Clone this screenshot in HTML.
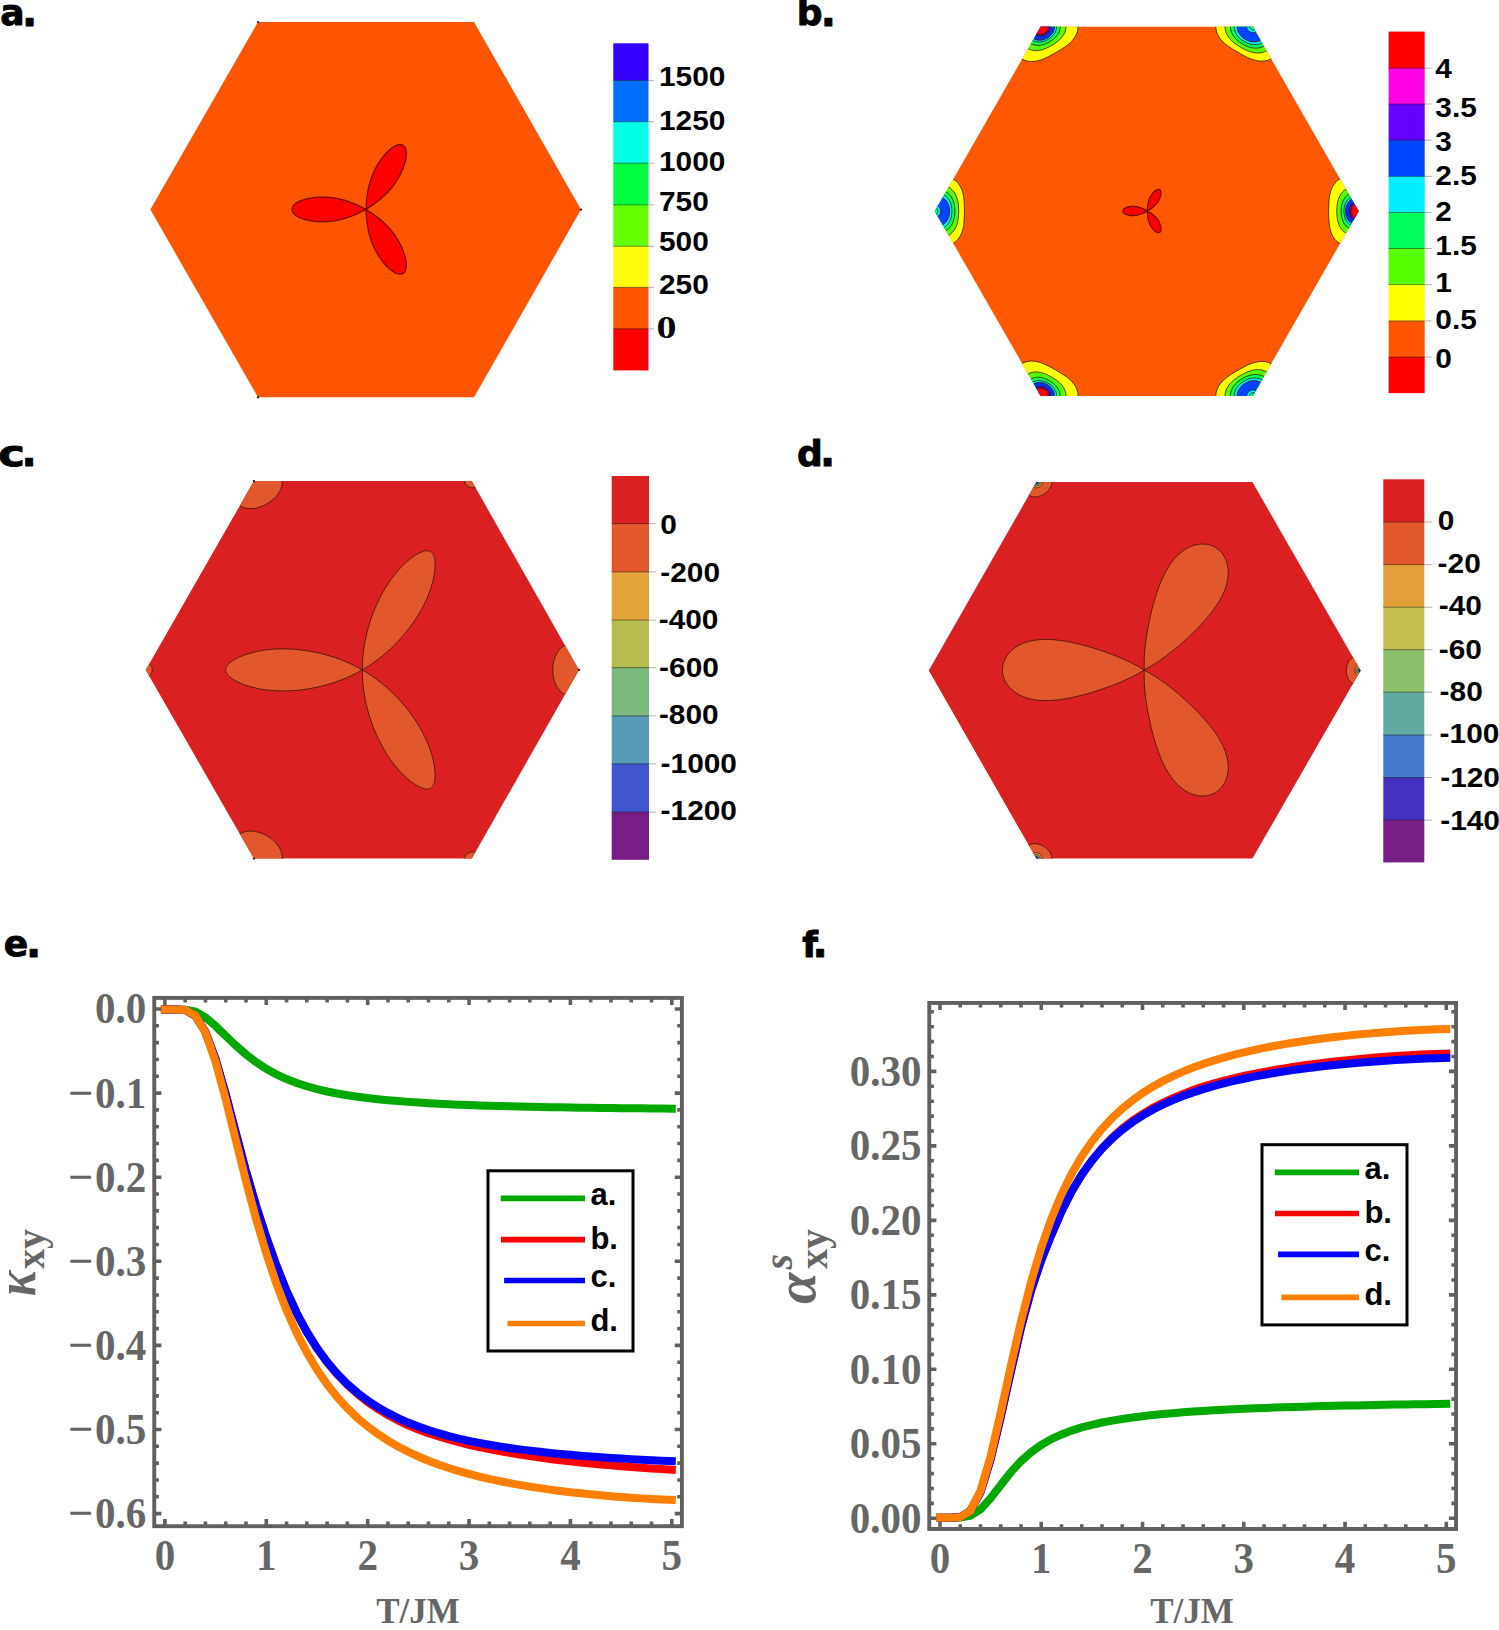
<!DOCTYPE html>
<html lang="en"><head><meta charset="utf-8"><title>Figure</title>
<style>html,body{margin:0;padding:0;background:#fff}svg{display:block}.pl{font-family:"DejaVu Sans","Liberation Sans",sans-serif;font-weight:bold;font-size:36px;fill:#000;stroke:#000;stroke-width:0.9px;stroke-linejoin:round}.cb{font-family:"Liberation Sans",sans-serif;font-weight:bold;font-size:27.5px;fill:#000}.tk{font-family:"Liberation Serif",serif;font-weight:bold;font-size:41px;fill:#666}.ax{font-family:"Liberation Serif",serif;font-weight:bold;font-size:35px;fill:#666}.lg{font-family:"Liberation Sans",sans-serif;font-weight:bold;font-size:31px;fill:#000}</style></head><body>
<svg width="1499" height="1630" viewBox="0 0 1499 1630">
<rect width="1499" height="1630" fill="#fff"/>
<defs>
<clipPath id="clipA"><polygon points="150.4,209.6 258,22 474,22 581,209.6 474,397.3 258,397.3"/></clipPath>
<clipPath id="clipB"><polygon points="934.8,211.2 1040.7,26.7 1252.8,26.7 1358.6,211.2 1252.8,395.9 1040.7,395.9"/></clipPath>
<clipPath id="clipC"><polygon points="145.7,669.9 253.9,481.1 471.8,481.1 579,669.9 471.8,858.6 253.9,858.6"/></clipPath>
<clipPath id="clipD"><polygon points="928.8,670.5 1036.4,482 1252.4,482 1360.6,670.5 1252.4,858.6 1036.4,858.6"/></clipPath>
</defs>
<polygon points="150.4,209.6 258,22 474,22 581,209.6 474,397.3 258,397.3" fill="#FF5500"/>
<path d="M366,209.4 L362.9,207.79 L359.89,206.3 L356.95,204.93 L354.09,203.69 L351.3,202.58 L348.6,201.59 L345.96,200.71 L343.41,199.95 L340.92,199.29 L338.51,198.74 L336.18,198.27 L333.91,197.9 L331.72,197.6 L329.6,197.37 L327.54,197.21 L325.56,197.1 L323.64,197.05 L321.79,197.05 L320.01,197.09 L318.29,197.18 L316.64,197.29 L315.05,197.44 L313.52,197.61 L312.06,197.82 L310.66,198.04 L309.31,198.28 L308.03,198.54 L306.81,198.82 L305.64,199.12 L304.53,199.42 L303.48,199.74 L302.48,200.07 L301.54,200.41 L300.65,200.76 L299.81,201.12 L299.02,201.48 L298.28,201.85 L297.59,202.22 L296.95,202.6 L296.35,202.98 L295.8,203.36 L295.3,203.75 L294.83,204.13 L294.41,204.52 L294.03,204.9 L293.69,205.29 L293.38,205.66 L293.11,206.04 L292.88,206.41 L292.67,206.77 L292.5,207.13 L292.36,207.47 L292.24,207.81 L292.15,208.13 L292.09,208.44 L292.04,208.73 L292.02,209 L292,209.23 L292,209.4 L292,209.57 L292.02,209.8 L292.04,210.07 L292.09,210.36 L292.15,210.67 L292.24,210.99 L292.36,211.33 L292.5,211.67 L292.67,212.03 L292.88,212.39 L293.11,212.76 L293.38,213.14 L293.69,213.51 L294.03,213.9 L294.41,214.28 L294.83,214.67 L295.3,215.05 L295.8,215.44 L296.35,215.82 L296.95,216.2 L297.59,216.58 L298.28,216.95 L299.02,217.32 L299.81,217.68 L300.65,218.04 L301.54,218.39 L302.48,218.73 L303.48,219.06 L304.53,219.38 L305.64,219.68 L306.81,219.98 L308.03,220.26 L309.31,220.52 L310.66,220.76 L312.06,220.98 L313.52,221.19 L315.05,221.36 L316.64,221.51 L318.29,221.62 L320.01,221.71 L321.79,221.75 L323.64,221.75 L325.56,221.7 L327.54,221.59 L329.6,221.43 L331.72,221.2 L333.91,220.9 L336.18,220.53 L338.51,220.06 L340.92,219.51 L343.41,218.85 L345.96,218.09 L348.6,217.21 L351.3,216.22 L354.09,215.11 L356.95,213.87 L359.89,212.5 L362.9,211.01 L366,209.4Z M366,209.4 L368.94,207.52 L371.74,205.66 L374.39,203.8 L376.9,201.94 L379.26,200.08 L381.47,198.24 L383.54,196.39 L385.48,194.56 L387.29,192.74 L388.98,190.93 L390.55,189.14 L392.01,187.36 L393.36,185.61 L394.62,183.89 L395.79,182.19 L396.87,180.52 L397.87,178.89 L398.8,177.29 L399.65,175.72 L400.44,174.19 L401.17,172.7 L401.84,171.25 L402.45,169.84 L403,168.48 L403.51,167.15 L403.97,165.87 L404.39,164.63 L404.76,163.43 L405.08,162.27 L405.37,161.16 L405.62,160.09 L405.84,159.06 L406.01,158.07 L406.16,157.12 L406.27,156.22 L406.35,155.36 L406.4,154.53 L406.42,153.75 L406.42,153 L406.38,152.3 L406.33,151.63 L406.25,151 L406.14,150.4 L406.02,149.84 L405.88,149.32 L405.72,148.83 L405.54,148.38 L405.35,147.96 L405.15,147.57 L404.94,147.21 L404.72,146.88 L404.49,146.59 L404.26,146.32 L404.02,146.08 L403.79,145.87 L403.56,145.69 L403.34,145.53 L403.15,145.4 L403,145.31 L402.85,145.23 L402.64,145.13 L402.4,145.02 L402.12,144.91 L401.82,144.81 L401.5,144.73 L401.15,144.66 L400.78,144.61 L400.39,144.58 L399.97,144.58 L399.53,144.6 L399.07,144.64 L398.59,144.72 L398.09,144.82 L397.57,144.96 L397.02,145.14 L396.46,145.34 L395.87,145.59 L395.26,145.88 L394.63,146.2 L393.99,146.57 L393.32,146.98 L392.63,147.43 L391.92,147.94 L391.19,148.48 L390.45,149.08 L389.68,149.73 L388.9,150.43 L388.09,151.18 L387.27,151.99 L386.44,152.85 L385.58,153.77 L384.72,154.75 L383.83,155.79 L382.94,156.89 L382.03,158.06 L381.12,159.29 L380.2,160.59 L379.27,161.97 L378.34,163.42 L377.41,164.94 L376.49,166.54 L375.57,168.23 L374.67,170 L373.78,171.86 L372.92,173.81 L372.08,175.86 L371.28,178.01 L370.51,180.27 L369.79,182.63 L369.11,185.11 L368.49,187.7 L367.93,190.42 L367.44,193.26 L367.01,196.23 L366.66,199.33 L366.37,202.56 L366.15,205.91 L366,209.4Z M366,209.4 L366.15,212.89 L366.37,216.24 L366.66,219.47 L367.01,222.57 L367.44,225.54 L367.93,228.38 L368.49,231.1 L369.11,233.69 L369.79,236.17 L370.51,238.53 L371.28,240.79 L372.08,242.94 L372.92,244.99 L373.78,246.94 L374.67,248.8 L375.57,250.57 L376.49,252.26 L377.41,253.86 L378.34,255.38 L379.27,256.83 L380.2,258.21 L381.12,259.51 L382.03,260.74 L382.94,261.91 L383.83,263.01 L384.72,264.05 L385.58,265.03 L386.44,265.95 L387.27,266.81 L388.09,267.62 L388.9,268.37 L389.68,269.07 L390.45,269.72 L391.19,270.32 L391.92,270.86 L392.63,271.37 L393.32,271.82 L393.99,272.23 L394.63,272.6 L395.26,272.92 L395.87,273.21 L396.46,273.46 L397.02,273.66 L397.57,273.84 L398.09,273.98 L398.59,274.08 L399.07,274.16 L399.53,274.2 L399.97,274.22 L400.39,274.22 L400.78,274.19 L401.15,274.14 L401.5,274.07 L401.82,273.99 L402.12,273.89 L402.4,273.78 L402.64,273.67 L402.85,273.57 L403,273.49 L403.15,273.4 L403.34,273.27 L403.56,273.11 L403.79,272.93 L404.02,272.72 L404.26,272.48 L404.49,272.21 L404.72,271.92 L404.94,271.59 L405.15,271.23 L405.35,270.84 L405.54,270.42 L405.72,269.97 L405.88,269.48 L406.02,268.96 L406.14,268.4 L406.25,267.8 L406.33,267.17 L406.38,266.5 L406.42,265.8 L406.42,265.05 L406.4,264.27 L406.35,263.44 L406.27,262.58 L406.16,261.68 L406.01,260.73 L405.84,259.74 L405.62,258.71 L405.37,257.64 L405.08,256.53 L404.76,255.37 L404.39,254.17 L403.97,252.93 L403.51,251.65 L403,250.32 L402.45,248.96 L401.84,247.55 L401.17,246.1 L400.44,244.61 L399.65,243.08 L398.8,241.51 L397.87,239.91 L396.87,238.28 L395.79,236.61 L394.62,234.91 L393.36,233.19 L392.01,231.44 L390.55,229.66 L388.98,227.87 L387.29,226.06 L385.48,224.24 L383.54,222.41 L381.47,220.56 L379.26,218.72 L376.9,216.86 L374.39,215 L371.74,213.14 L368.94,211.28 L366,209.4Z" fill="#FF0000" stroke="#5a0800" stroke-opacity="0.85" stroke-width="1.25"/>
<circle cx="258" cy="22" r="1.1" fill="#111"/>
<circle cx="258" cy="397.3" r="1.1" fill="#111"/>
<circle cx="581" cy="209.6" r="1.1" fill="#111"/>
<polygon points="934.8,211.2 1040.7,26.7 1252.8,26.7 1358.6,211.2 1252.8,395.9 1040.7,395.9" fill="#FF5800"/>
<path d="M1147.4,211 L1146.37,210.4 L1145.37,209.85 L1144.39,209.34 L1143.44,208.88 L1142.51,208.46 L1141.61,208.09 L1140.74,207.77 L1139.89,207.48 L1139.06,207.24 L1138.26,207.03 L1137.49,206.86 L1136.73,206.72 L1136,206.61 L1135.3,206.52 L1134.62,206.46 L1133.96,206.42 L1133.32,206.4 L1132.7,206.4 L1132.11,206.42 L1131.54,206.45 L1130.99,206.49 L1130.46,206.55 L1129.95,206.61 L1129.47,206.69 L1129,206.77 L1128.56,206.86 L1128.13,206.96 L1127.72,207.06 L1127.34,207.17 L1126.97,207.29 L1126.62,207.4 L1126.29,207.53 L1125.97,207.65 L1125.68,207.78 L1125.4,207.92 L1125.13,208.05 L1124.89,208.19 L1124.66,208.33 L1124.45,208.47 L1124.25,208.61 L1124.06,208.75 L1123.9,208.9 L1123.74,209.04 L1123.6,209.18 L1123.47,209.33 L1123.36,209.47 L1123.26,209.61 L1123.17,209.75 L1123.09,209.89 L1123.02,210.02 L1122.97,210.15 L1122.92,210.28 L1122.88,210.41 L1122.85,210.53 L1122.83,210.64 L1122.81,210.75 L1122.81,210.85 L1122.8,210.94 L1122.8,211 L1122.8,211.06 L1122.81,211.15 L1122.81,211.25 L1122.83,211.36 L1122.85,211.47 L1122.88,211.59 L1122.92,211.72 L1122.97,211.85 L1123.02,211.98 L1123.09,212.11 L1123.17,212.25 L1123.26,212.39 L1123.36,212.53 L1123.47,212.67 L1123.6,212.82 L1123.74,212.96 L1123.9,213.1 L1124.06,213.25 L1124.25,213.39 L1124.45,213.53 L1124.66,213.67 L1124.89,213.81 L1125.13,213.95 L1125.4,214.08 L1125.68,214.22 L1125.97,214.35 L1126.29,214.47 L1126.62,214.6 L1126.97,214.71 L1127.34,214.83 L1127.72,214.94 L1128.13,215.04 L1128.56,215.14 L1129,215.23 L1129.47,215.31 L1129.95,215.39 L1130.46,215.45 L1130.99,215.51 L1131.54,215.55 L1132.11,215.58 L1132.7,215.6 L1133.32,215.6 L1133.96,215.58 L1134.62,215.54 L1135.3,215.48 L1136,215.39 L1136.73,215.28 L1137.49,215.14 L1138.26,214.97 L1139.06,214.76 L1139.89,214.52 L1140.74,214.23 L1141.61,213.91 L1142.51,213.54 L1143.44,213.12 L1144.39,212.66 L1145.37,212.15 L1146.37,211.6 L1147.4,211Z M1147.4,211 L1148.43,210.41 L1149.42,209.82 L1150.34,209.23 L1151.22,208.63 L1152.04,208.04 L1152.81,207.44 L1153.53,206.85 L1154.2,206.26 L1154.83,205.66 L1155.41,205.07 L1155.94,204.49 L1156.44,203.9 L1156.9,203.33 L1157.33,202.76 L1157.72,202.2 L1158.09,201.65 L1158.42,201.1 L1158.73,200.57 L1159.01,200.05 L1159.27,199.54 L1159.51,199.04 L1159.73,198.56 L1159.92,198.09 L1160.1,197.63 L1160.26,197.18 L1160.41,196.75 L1160.54,196.33 L1160.65,195.93 L1160.75,195.54 L1160.83,195.16 L1160.91,194.8 L1160.97,194.45 L1161.01,194.12 L1161.05,193.79 L1161.07,193.49 L1161.09,193.19 L1161.09,192.91 L1161.09,192.64 L1161.07,192.39 L1161.05,192.14 L1161.01,191.91 L1160.97,191.7 L1160.93,191.49 L1160.87,191.3 L1160.81,191.12 L1160.75,190.95 L1160.67,190.79 L1160.6,190.64 L1160.52,190.5 L1160.44,190.38 L1160.35,190.26 L1160.26,190.16 L1160.17,190.06 L1160.08,189.98 L1159.99,189.9 L1159.91,189.83 L1159.83,189.78 L1159.75,189.73 L1159.7,189.7 L1159.64,189.66 L1159.57,189.63 L1159.48,189.58 L1159.38,189.54 L1159.27,189.5 L1159.15,189.47 L1159.02,189.44 L1158.88,189.42 L1158.74,189.4 L1158.59,189.39 L1158.43,189.39 L1158.27,189.4 L1158.09,189.42 L1157.91,189.44 L1157.73,189.48 L1157.53,189.53 L1157.33,189.59 L1157.12,189.67 L1156.91,189.75 L1156.68,189.85 L1156.46,189.97 L1156.22,190.1 L1155.98,190.24 L1155.73,190.4 L1155.48,190.58 L1155.22,190.77 L1154.95,190.98 L1154.68,191.2 L1154.4,191.45 L1154.12,191.71 L1153.83,191.99 L1153.53,192.29 L1153.24,192.61 L1152.94,192.95 L1152.63,193.31 L1152.32,193.7 L1152.01,194.1 L1151.7,194.53 L1151.39,194.99 L1151.08,195.47 L1150.77,195.97 L1150.46,196.51 L1150.16,197.07 L1149.86,197.66 L1149.57,198.28 L1149.29,198.93 L1149.02,199.62 L1148.77,200.34 L1148.53,201.1 L1148.31,201.9 L1148.11,202.74 L1147.93,203.61 L1147.77,204.53 L1147.64,205.5 L1147.54,206.51 L1147.46,207.56 L1147.42,208.66 L1147.4,209.81 L1147.4,211Z M1147.4,211 L1147.4,212.19 L1147.42,213.34 L1147.46,214.44 L1147.54,215.49 L1147.64,216.5 L1147.77,217.47 L1147.93,218.39 L1148.11,219.26 L1148.31,220.1 L1148.53,220.9 L1148.77,221.66 L1149.02,222.38 L1149.29,223.07 L1149.57,223.72 L1149.86,224.34 L1150.16,224.93 L1150.46,225.49 L1150.77,226.03 L1151.08,226.53 L1151.39,227.01 L1151.7,227.47 L1152.01,227.9 L1152.32,228.3 L1152.63,228.69 L1152.94,229.05 L1153.24,229.39 L1153.53,229.71 L1153.83,230.01 L1154.12,230.29 L1154.4,230.55 L1154.68,230.8 L1154.95,231.02 L1155.22,231.23 L1155.48,231.42 L1155.73,231.6 L1155.98,231.76 L1156.22,231.9 L1156.46,232.03 L1156.68,232.15 L1156.91,232.25 L1157.12,232.33 L1157.33,232.41 L1157.53,232.47 L1157.73,232.52 L1157.91,232.56 L1158.09,232.58 L1158.27,232.6 L1158.43,232.61 L1158.59,232.61 L1158.74,232.6 L1158.88,232.58 L1159.02,232.56 L1159.15,232.53 L1159.27,232.5 L1159.38,232.46 L1159.48,232.42 L1159.57,232.37 L1159.64,232.34 L1159.7,232.3 L1159.75,232.27 L1159.83,232.22 L1159.91,232.17 L1159.99,232.1 L1160.08,232.02 L1160.17,231.94 L1160.26,231.84 L1160.35,231.74 L1160.44,231.62 L1160.52,231.5 L1160.6,231.36 L1160.67,231.21 L1160.75,231.05 L1160.81,230.88 L1160.87,230.7 L1160.93,230.51 L1160.97,230.3 L1161.01,230.09 L1161.05,229.86 L1161.07,229.61 L1161.09,229.36 L1161.09,229.09 L1161.09,228.81 L1161.07,228.51 L1161.05,228.21 L1161.01,227.88 L1160.97,227.55 L1160.91,227.2 L1160.83,226.84 L1160.75,226.46 L1160.65,226.07 L1160.54,225.67 L1160.41,225.25 L1160.26,224.82 L1160.1,224.37 L1159.92,223.91 L1159.73,223.44 L1159.51,222.96 L1159.27,222.46 L1159.01,221.95 L1158.73,221.43 L1158.42,220.9 L1158.09,220.35 L1157.72,219.8 L1157.33,219.24 L1156.9,218.67 L1156.44,218.1 L1155.94,217.51 L1155.41,216.93 L1154.83,216.34 L1154.2,215.74 L1153.53,215.15 L1152.81,214.56 L1152.04,213.96 L1151.22,213.37 L1150.34,212.77 L1149.42,212.18 L1148.43,211.59 L1147.4,211Z" fill="#FF0000" stroke="#5a0800" stroke-opacity="0.85" stroke-width="1.25"/>
<g clip-path="url(#clipB)">
<path d="M897.8,211.2 L898.1,214.41 L898.96,217.52 L900.32,220.44 L902.08,223.11 L904.11,225.51 L906.32,227.64 L908.61,229.54 L910.93,231.23 L913.24,232.76 L915.52,234.18 L917.76,235.53 L920,236.83 L922.25,238.12 L924.54,239.39 L926.91,240.65 L929.39,241.88 L932.01,243.05 L934.8,244.09 L937.75,244.93 L940.85,245.49 L944.04,245.68 L947.25,245.4 L950.37,244.59 L953.3,243.24 L955.93,241.38 L958.19,239.08 L960.04,236.44 L961.48,233.58 L962.54,230.62 L963.28,227.64 L963.77,224.71 L964.08,221.86 L964.25,219.09 L964.35,216.41 L964.39,213.79 L964.4,211.2 L964.39,208.61 L964.35,205.99 L964.25,203.31 L964.08,200.54 L963.77,197.69 L963.28,194.76 L962.54,191.78 L961.48,188.82 L960.04,185.96 L958.19,183.32 L955.93,181.02 L953.3,179.16 L950.37,177.81 L947.25,177 L944.04,176.72 L940.85,176.91 L937.75,177.47 L934.8,178.31 L932.01,179.35 L929.39,180.52 L926.91,181.75 L924.54,183.01 L922.25,184.28 L920,185.57 L917.76,186.87 L915.52,188.22 L913.24,189.64 L910.93,191.17 L908.61,192.86 L906.32,194.76 L904.11,196.89 L902.08,199.29 L900.32,201.96 L898.96,204.88 L898.1,207.99Z" fill="#FFFF00" stroke="#3a1500" stroke-opacity="0.8" stroke-width="1"/>
<path d="M907,211.2 L907.18,213.62 L907.72,215.98 L908.57,218.23 L909.7,220.34 L911.04,222.28 L912.54,224.05 L914.14,225.66 L915.82,227.13 L917.54,228.46 L919.29,229.69 L921.05,230.83 L922.85,231.9 L924.67,232.92 L926.55,233.88 L928.48,234.78 L930.5,235.6 L932.6,236.32 L934.8,236.91 L937.09,237.32 L939.44,237.51 L941.83,237.43 L944.21,237.04 L946.52,236.33 L948.7,235.28 L950.7,233.91 L952.48,232.27 L954,230.4 L955.26,228.37 L956.28,226.24 L957.06,224.05 L957.65,221.86 L958.08,219.67 L958.38,217.52 L958.57,215.39 L958.67,213.29 L958.71,211.2 L958.67,209.11 L958.57,207.01 L958.38,204.88 L958.08,202.73 L957.65,200.54 L957.06,198.35 L956.28,196.16 L955.26,194.03 L954,192 L952.48,190.13 L950.7,188.49 L948.7,187.12 L946.52,186.07 L944.21,185.36 L941.83,184.97 L939.44,184.89 L937.09,185.08 L934.8,185.49 L932.6,186.08 L930.5,186.8 L928.48,187.62 L926.55,188.52 L924.67,189.48 L922.85,190.5 L921.05,191.57 L919.29,192.71 L917.54,193.94 L915.82,195.27 L914.14,196.74 L912.54,198.35 L911.04,200.12 L909.7,202.06 L908.57,204.17 L907.72,206.42 L907.18,208.78Z" fill="#55FF00" stroke="#3a1500" stroke-opacity="0.8" stroke-width="1"/>
<path d="M912.4,211.2 L912.53,213.15 L912.9,215.06 L913.51,216.9 L914.32,218.65 L915.3,220.29 L916.42,221.81 L917.65,223.21 L918.96,224.49 L920.33,225.67 L921.75,226.75 L923.22,227.74 L924.72,228.66 L926.27,229.5 L927.86,230.27 L929.5,230.96 L931.21,231.56 L932.98,232.06 L934.8,232.42 L936.68,232.63 L938.58,232.66 L940.5,232.49 L942.4,232.09 L944.25,231.46 L946,230.6 L947.62,229.51 L949.09,228.23 L950.39,226.79 L951.5,225.21 L952.42,223.54 L953.18,221.81 L953.77,220.05 L954.23,218.27 L954.56,216.5 L954.79,214.72 L954.92,212.96 L954.96,211.2 L954.92,209.44 L954.79,207.68 L954.56,205.9 L954.23,204.13 L953.77,202.35 L953.18,200.59 L952.42,198.86 L951.5,197.19 L950.39,195.61 L949.09,194.17 L947.62,192.89 L946,191.8 L944.25,190.94 L942.4,190.31 L940.5,189.91 L938.58,189.74 L936.68,189.77 L934.8,189.98 L932.98,190.34 L931.21,190.84 L929.5,191.44 L927.86,192.13 L926.27,192.9 L924.72,193.74 L923.22,194.66 L921.75,195.65 L920.33,196.73 L918.96,197.91 L917.65,199.19 L916.42,200.59 L915.3,202.11 L914.32,203.75 L913.51,205.5 L912.9,207.34 L912.53,209.25Z" fill="#00FF5A" stroke="#3a1500" stroke-opacity="0.8" stroke-width="1"/>
<path d="M916.2,211.2 L916.3,212.82 L916.59,214.41 L917.06,215.95 L917.69,217.43 L918.47,218.82 L919.36,220.11 L920.35,221.31 L921.42,222.42 L922.56,223.44 L923.74,224.38 L924.97,225.24 L926.24,226.02 L927.56,226.73 L928.92,227.37 L930.32,227.92 L931.77,228.4 L933.26,228.77 L934.8,229.02 L936.37,229.15 L937.96,229.13 L939.55,228.94 L941.12,228.58 L942.65,228.03 L944.1,227.31 L945.45,226.41 L946.69,225.37 L947.79,224.19 L948.75,222.9 L949.56,221.54 L950.24,220.11 L950.78,218.65 L951.21,217.17 L951.52,215.68 L951.74,214.19 L951.87,212.69 L951.91,211.2 L951.87,209.71 L951.74,208.21 L951.52,206.72 L951.21,205.23 L950.78,203.75 L950.24,202.29 L949.56,200.86 L948.75,199.5 L947.79,198.21 L946.69,197.03 L945.45,195.99 L944.1,195.09 L942.65,194.37 L941.12,193.82 L939.55,193.46 L937.96,193.27 L936.37,193.25 L934.8,193.38 L933.26,193.63 L931.77,194 L930.32,194.48 L928.92,195.03 L927.56,195.67 L926.24,196.38 L924.97,197.16 L923.74,198.02 L922.56,198.96 L921.42,199.98 L920.35,201.09 L919.36,202.29 L918.47,203.58 L917.69,204.97 L917.06,206.45 L916.59,207.99 L916.3,209.58Z" fill="#00EEFF" stroke="#3a1500" stroke-opacity="0.8" stroke-width="1"/>
<path d="M919.1,211.2 L919.18,212.57 L919.4,213.91 L919.78,215.23 L920.28,216.49 L920.9,217.68 L921.62,218.81 L922.44,219.86 L923.32,220.83 L924.27,221.73 L925.28,222.55 L926.33,223.3 L927.42,223.98 L928.56,224.59 L929.73,225.12 L930.95,225.58 L932.2,225.96 L933.48,226.24 L934.8,226.41 L936.14,226.48 L937.48,226.42 L938.83,226.22 L940.15,225.89 L941.43,225.41 L942.65,224.8 L943.8,224.05 L944.85,223.18 L945.8,222.2 L946.64,221.13 L947.36,220 L947.98,218.81 L948.48,217.58 L948.88,216.32 L949.18,215.05 L949.39,213.77 L949.52,212.49 L949.56,211.2 L949.52,209.91 L949.39,208.63 L949.18,207.35 L948.88,206.08 L948.48,204.82 L947.98,203.59 L947.36,202.4 L946.64,201.27 L945.8,200.2 L944.85,199.22 L943.8,198.35 L942.65,197.6 L941.43,196.99 L940.15,196.51 L938.83,196.18 L937.48,195.98 L936.14,195.92 L934.8,195.99 L933.48,196.16 L932.2,196.44 L930.95,196.82 L929.73,197.28 L928.56,197.81 L927.42,198.42 L926.33,199.1 L925.28,199.85 L924.27,200.67 L923.32,201.57 L922.44,202.54 L921.62,203.59 L920.9,204.72 L920.28,205.91 L919.78,207.17 L919.4,208.49 L919.18,209.83Z" fill="#0044FF" stroke="#3a1500" stroke-opacity="0.8" stroke-width="1"/>
<path d="M928.8,211.2 L928.83,211.72 L928.9,212.24 L929.03,212.75 L929.21,213.24 L929.42,213.71 L929.68,214.15 L929.98,214.58 L930.31,214.97 L930.67,215.33 L931.05,215.67 L931.46,215.97 L931.89,216.24 L932.34,216.48 L932.81,216.68 L933.29,216.85 L933.78,216.97 L934.29,217.06 L934.8,217.11 L935.32,217.11 L935.83,217.06 L936.35,216.97 L936.85,216.83 L937.33,216.63 L937.8,216.4 L938.24,216.11 L938.65,215.79 L939.02,215.42 L939.36,215.03 L939.66,214.6 L939.92,214.15 L940.13,213.69 L940.31,213.21 L940.45,212.71 L940.54,212.21 L940.6,211.71 L940.62,211.2 L940.6,210.69 L940.54,210.19 L940.45,209.69 L940.31,209.19 L940.13,208.71 L939.92,208.25 L939.66,207.8 L939.36,207.37 L939.02,206.98 L938.65,206.61 L938.24,206.29 L937.8,206 L937.33,205.77 L936.85,205.57 L936.35,205.43 L935.83,205.34 L935.32,205.29 L934.8,205.29 L934.29,205.34 L933.78,205.43 L933.29,205.55 L932.81,205.72 L932.34,205.92 L931.89,206.16 L931.46,206.43 L931.05,206.73 L930.67,207.07 L930.31,207.43 L929.98,207.82 L929.68,208.25 L929.42,208.69 L929.21,209.16 L929.03,209.65 L928.9,210.16 L928.83,210.68Z" fill="#00EEFF" stroke="#3a1500" stroke-opacity="0.8" stroke-width="1"/>
<path d="M931.5,211.2 L931.51,211.49 L931.55,211.77 L931.62,212.05 L931.71,212.32 L931.83,212.58 L931.97,212.83 L932.13,213.07 L932.31,213.29 L932.51,213.49 L932.72,213.68 L932.94,213.85 L933.18,214 L933.43,214.13 L933.69,214.24 L933.96,214.33 L934.24,214.4 L934.52,214.45 L934.8,214.47 L935.09,214.46 L935.37,214.43 L935.65,214.38 L935.93,214.3 L936.19,214.19 L936.45,214.06 L936.69,213.9 L936.92,213.72 L937.13,213.53 L937.32,213.31 L937.48,213.08 L937.63,212.83 L937.75,212.58 L937.85,212.31 L937.93,212.04 L937.99,211.76 L938.02,211.48 L938.03,211.2 L938.02,210.92 L937.99,210.64 L937.93,210.36 L937.85,210.09 L937.75,209.82 L937.63,209.57 L937.48,209.32 L937.32,209.09 L937.13,208.87 L936.92,208.68 L936.69,208.5 L936.45,208.34 L936.19,208.21 L935.93,208.1 L935.65,208.02 L935.37,207.97 L935.09,207.94 L934.8,207.93 L934.52,207.95 L934.24,208 L933.96,208.07 L933.69,208.16 L933.43,208.27 L933.18,208.4 L932.94,208.55 L932.72,208.72 L932.51,208.91 L932.31,209.11 L932.13,209.33 L931.97,209.57 L931.83,209.82 L931.71,210.08 L931.62,210.35 L931.55,210.63 L931.51,210.91Z" fill="#00FF5A" stroke="#3a1500" stroke-opacity="0.8" stroke-width="1"/>
<path d="M1022,-5.69 L1019.34,-3.81 L1017.06,-1.48 L1015.19,1.19 L1013.74,4.07 L1012.66,7.07 L1011.91,10.08 L1011.41,13.04 L1011.1,15.93 L1010.93,18.72 L1010.83,21.43 L1010.79,24.08 L1010.78,26.7 L1010.79,29.32 L1010.83,31.97 L1010.93,34.68 L1011.1,37.47 L1011.41,40.36 L1011.91,43.32 L1012.66,46.33 L1013.74,49.33 L1015.19,52.21 L1017.06,54.88 L1019.34,57.21 L1022,59.09 L1024.96,60.45 L1028.12,61.27 L1031.36,61.55 L1034.59,61.37 L1037.72,60.8 L1040.7,59.94 L1043.52,58.89 L1046.17,57.72 L1048.68,56.47 L1051.07,55.2 L1053.39,53.91 L1055.66,52.61 L1057.92,51.29 L1060.19,49.93 L1062.49,48.49 L1064.83,46.94 L1067.17,45.24 L1069.49,43.32 L1071.72,41.17 L1073.78,38.74 L1075.55,36.04 L1076.93,33.09 L1077.8,29.95 L1078.1,26.7 L1077.8,23.45 L1076.93,20.31 L1075.55,17.36 L1073.78,14.66 L1071.72,12.23 L1069.49,10.08 L1067.17,8.16 L1064.83,6.46 L1062.49,4.91 L1060.19,3.47 L1057.92,2.11 L1055.66,0.79 L1053.39,-0.51 L1051.07,-1.8 L1048.68,-3.07 L1046.17,-4.32 L1043.52,-5.49 L1040.7,-6.54 L1037.72,-7.4 L1034.59,-7.97 L1031.36,-8.15 L1028.12,-7.87 L1024.96,-7.05Z" fill="#FFFF00" stroke="#3a1500" stroke-opacity="0.8" stroke-width="1"/>
<path d="M1028.05,4.79 L1026.23,6.03 L1024.61,7.53 L1023.23,9.23 L1022.08,11.07 L1021.15,13.01 L1020.44,15 L1019.9,17 L1019.51,18.99 L1019.24,20.95 L1019.07,22.89 L1018.97,24.8 L1018.94,26.7 L1018.97,28.6 L1019.07,30.51 L1019.24,32.45 L1019.51,34.41 L1019.9,36.4 L1020.44,38.4 L1021.15,40.39 L1022.08,42.33 L1023.23,44.17 L1024.61,45.87 L1026.23,47.37 L1028.05,48.61 L1030.04,49.57 L1032.14,50.22 L1034.3,50.57 L1036.48,50.64 L1038.62,50.47 L1040.7,50.1 L1042.7,49.56 L1044.62,48.9 L1046.45,48.16 L1048.21,47.34 L1049.92,46.47 L1051.58,45.54 L1053.21,44.57 L1054.82,43.53 L1056.41,42.41 L1057.97,41.19 L1059.5,39.86 L1060.96,38.4 L1062.32,36.78 L1063.54,35.01 L1064.57,33.1 L1065.35,31.05 L1065.83,28.9 L1066,26.7 L1065.83,24.5 L1065.35,22.35 L1064.57,20.3 L1063.54,18.39 L1062.32,16.62 L1060.96,15 L1059.5,13.54 L1057.97,12.21 L1056.41,10.99 L1054.82,9.87 L1053.21,8.83 L1051.58,7.86 L1049.92,6.93 L1048.21,6.06 L1046.45,5.24 L1044.62,4.5 L1042.7,3.84 L1040.7,3.3 L1038.62,2.93 L1036.48,2.76 L1034.3,2.83 L1032.14,3.18 L1030.04,3.83Z" fill="#55FF00" stroke="#3a1500" stroke-opacity="0.8" stroke-width="1"/>
<path d="M1030.95,9.81 L1029.54,10.76 L1028.26,11.87 L1027.13,13.13 L1026.17,14.5 L1025.36,15.96 L1024.7,17.46 L1024.18,19 L1023.79,20.54 L1023.5,22.09 L1023.3,23.63 L1023.19,25.17 L1023.15,26.7 L1023.19,28.23 L1023.3,29.77 L1023.5,31.31 L1023.79,32.86 L1024.18,34.4 L1024.7,35.94 L1025.36,37.44 L1026.17,38.9 L1027.13,40.27 L1028.26,41.53 L1029.54,42.64 L1030.95,43.59 L1032.47,44.34 L1034.08,44.89 L1035.73,45.23 L1037.41,45.38 L1039.07,45.36 L1040.7,45.17 L1042.29,44.86 L1043.83,44.43 L1045.31,43.9 L1046.74,43.3 L1048.13,42.63 L1049.48,41.9 L1050.78,41.1 L1052.06,40.23 L1053.29,39.29 L1054.49,38.27 L1055.63,37.15 L1056.7,35.94 L1057.67,34.62 L1058.53,33.19 L1059.23,31.67 L1059.76,30.06 L1060.09,28.4 L1060.2,26.7 L1060.09,25 L1059.76,23.34 L1059.23,21.73 L1058.53,20.21 L1057.67,18.78 L1056.7,17.46 L1055.63,16.25 L1054.49,15.13 L1053.29,14.11 L1052.06,13.17 L1050.78,12.3 L1049.48,11.5 L1048.13,10.77 L1046.74,10.1 L1045.31,9.5 L1043.83,8.97 L1042.29,8.54 L1040.7,8.23 L1039.07,8.04 L1037.41,8.02 L1035.73,8.17 L1034.08,8.51 L1032.47,9.06Z" fill="#00FF5A" stroke="#3a1500" stroke-opacity="0.8" stroke-width="1"/>
<path d="M1032.75,12.93 L1031.59,13.69 L1030.54,14.59 L1029.6,15.6 L1028.78,16.7 L1028.08,17.86 L1027.5,19.08 L1027.04,20.33 L1026.67,21.59 L1026.4,22.87 L1026.22,24.15 L1026.11,25.42 L1026.07,26.7 L1026.11,27.98 L1026.22,29.25 L1026.4,30.53 L1026.67,31.81 L1027.04,33.07 L1027.5,34.32 L1028.08,35.54 L1028.78,36.7 L1029.6,37.8 L1030.54,38.81 L1031.59,39.71 L1032.75,40.47 L1033.99,41.09 L1035.29,41.55 L1036.64,41.87 L1038,42.03 L1039.36,42.04 L1040.7,41.94 L1042.01,41.72 L1043.29,41.4 L1044.53,41 L1045.73,40.52 L1046.89,39.98 L1048.01,39.37 L1049.1,38.7 L1050.15,37.97 L1051.17,37.17 L1052.13,36.29 L1053.05,35.35 L1053.9,34.32 L1054.66,33.21 L1055.32,32.02 L1055.87,30.76 L1056.27,29.45 L1056.52,28.08 L1056.6,26.7 L1056.52,25.32 L1056.27,23.95 L1055.87,22.64 L1055.32,21.38 L1054.66,20.19 L1053.9,19.08 L1053.05,18.05 L1052.13,17.11 L1051.17,16.23 L1050.15,15.43 L1049.1,14.7 L1048.01,14.03 L1046.89,13.42 L1045.73,12.88 L1044.53,12.4 L1043.29,12 L1042.01,11.68 L1040.7,11.46 L1039.36,11.36 L1038,11.37 L1036.64,11.53 L1035.29,11.85 L1033.99,12.31Z" fill="#00EEFF" stroke="#3a1500" stroke-opacity="0.8" stroke-width="1"/>
<path d="M1033.75,14.66 L1032.74,15.33 L1031.8,16.1 L1030.96,16.96 L1030.22,17.91 L1029.58,18.91 L1029.03,19.96 L1028.59,21.05 L1028.24,22.16 L1027.97,23.29 L1027.78,24.42 L1027.67,25.56 L1027.63,26.7 L1027.67,27.84 L1027.78,28.98 L1027.97,30.11 L1028.24,31.24 L1028.59,32.35 L1029.03,33.44 L1029.58,34.49 L1030.22,35.49 L1030.96,36.44 L1031.8,37.3 L1032.74,38.07 L1033.75,38.74 L1034.83,39.28 L1035.97,39.71 L1037.14,40 L1038.32,40.17 L1039.52,40.23 L1040.7,40.17 L1041.86,40.01 L1043,39.76 L1044.11,39.43 L1045.19,39.03 L1046.23,38.55 L1047.23,38.02 L1048.2,37.41 L1049.13,36.75 L1050.02,36.02 L1050.86,35.23 L1051.65,34.36 L1052.37,33.44 L1053.01,32.44 L1053.56,31.38 L1054,30.26 L1054.33,29.1 L1054.53,27.91 L1054.6,26.7 L1054.53,25.49 L1054.33,24.3 L1054,23.14 L1053.56,22.02 L1053.01,20.96 L1052.37,19.96 L1051.65,19.04 L1050.86,18.17 L1050.02,17.38 L1049.13,16.65 L1048.2,15.99 L1047.23,15.38 L1046.23,14.85 L1045.19,14.37 L1044.11,13.97 L1043,13.64 L1041.86,13.39 L1040.7,13.23 L1039.52,13.17 L1038.32,13.23 L1037.14,13.4 L1035.97,13.69 L1034.83,14.12Z" fill="#0033EE" stroke="#3a1500" stroke-opacity="0.8" stroke-width="1"/>
<path d="M1035.9,18.39 L1035.2,18.84 L1034.55,19.37 L1033.95,19.95 L1033.42,20.59 L1032.96,21.28 L1032.56,22 L1032.22,22.75 L1031.95,23.52 L1031.75,24.3 L1031.6,25.1 L1031.51,25.9 L1031.48,26.7 L1031.51,27.5 L1031.6,28.3 L1031.75,29.1 L1031.95,29.88 L1032.22,30.65 L1032.56,31.4 L1032.96,32.12 L1033.42,32.81 L1033.95,33.45 L1034.55,34.03 L1035.2,34.56 L1035.9,35.01 L1036.65,35.39 L1037.43,35.7 L1038.23,35.92 L1039.05,36.06 L1039.88,36.12 L1040.7,36.1 L1041.52,36.02 L1042.32,35.87 L1043.1,35.65 L1043.86,35.38 L1044.6,35.06 L1045.31,34.68 L1045.99,34.25 L1046.64,33.78 L1047.26,33.26 L1047.83,32.68 L1048.36,32.07 L1048.84,31.4 L1049.27,30.7 L1049.63,29.95 L1049.92,29.17 L1050.13,28.36 L1050.26,27.54 L1050.3,26.7 L1050.26,25.86 L1050.13,25.04 L1049.92,24.23 L1049.63,23.45 L1049.27,22.7 L1048.84,22 L1048.36,21.33 L1047.83,20.72 L1047.26,20.14 L1046.64,19.62 L1045.99,19.15 L1045.31,18.72 L1044.6,18.34 L1043.86,18.02 L1043.1,17.75 L1042.32,17.53 L1041.52,17.38 L1040.7,17.3 L1039.88,17.28 L1039.05,17.34 L1038.23,17.48 L1037.43,17.7 L1036.65,18.01Z" fill="#6600FF" stroke="#3a1500" stroke-opacity="0.8" stroke-width="1"/>
<path d="M1036.4,19.25 L1035.77,19.66 L1035.18,20.13 L1034.65,20.65 L1034.16,21.21 L1033.74,21.82 L1033.37,22.47 L1033.05,23.13 L1032.8,23.83 L1032.61,24.53 L1032.47,25.25 L1032.39,25.97 L1032.36,26.7 L1032.39,27.43 L1032.47,28.15 L1032.61,28.87 L1032.8,29.57 L1033.05,30.27 L1033.37,30.93 L1033.74,31.58 L1034.16,32.19 L1034.65,32.75 L1035.18,33.27 L1035.77,33.74 L1036.4,34.15 L1037.07,34.49 L1037.76,34.76 L1038.48,34.97 L1039.22,35.1 L1039.96,35.17 L1040.7,35.17 L1041.44,35.1 L1042.16,34.98 L1042.87,34.79 L1043.56,34.55 L1044.23,34.26 L1044.87,33.92 L1045.49,33.54 L1046.07,33.1 L1046.62,32.62 L1047.14,32.1 L1047.61,31.54 L1048.03,30.93 L1048.41,30.29 L1048.72,29.62 L1048.97,28.92 L1049.15,28.19 L1049.26,27.45 L1049.3,26.7 L1049.26,25.95 L1049.15,25.21 L1048.97,24.48 L1048.72,23.78 L1048.41,23.11 L1048.03,22.47 L1047.61,21.86 L1047.14,21.3 L1046.62,20.78 L1046.07,20.3 L1045.49,19.86 L1044.87,19.48 L1044.23,19.14 L1043.56,18.85 L1042.87,18.61 L1042.16,18.42 L1041.44,18.3 L1040.7,18.23 L1039.96,18.23 L1039.22,18.3 L1038.48,18.43 L1037.76,18.64 L1037.07,18.91Z" fill="#FF00E6" stroke="#3a1500" stroke-opacity="0.8" stroke-width="1"/>
<path d="M1036.85,20.03 L1036.28,20.39 L1035.76,20.81 L1035.27,21.27 L1034.83,21.78 L1034.44,22.32 L1034.1,22.89 L1033.81,23.49 L1033.57,24.11 L1033.39,24.74 L1033.26,25.39 L1033.18,26.04 L1033.15,26.7 L1033.18,27.36 L1033.26,28.01 L1033.39,28.66 L1033.57,29.29 L1033.81,29.91 L1034.1,30.51 L1034.44,31.08 L1034.83,31.62 L1035.27,32.13 L1035.76,32.59 L1036.28,33.01 L1036.85,33.37 L1037.45,33.68 L1038.07,33.93 L1038.71,34.12 L1039.37,34.24 L1040.03,34.31 L1040.7,34.32 L1041.36,34.27 L1042.02,34.17 L1042.66,34.01 L1043.28,33.8 L1043.89,33.54 L1044.47,33.24 L1045.03,32.88 L1045.56,32.49 L1046.05,32.05 L1046.51,31.57 L1046.93,31.06 L1047.3,30.51 L1047.63,29.93 L1047.9,29.32 L1048.12,28.69 L1048.27,28.04 L1048.37,27.37 L1048.4,26.7 L1048.37,26.03 L1048.27,25.36 L1048.12,24.71 L1047.9,24.08 L1047.63,23.47 L1047.3,22.89 L1046.93,22.34 L1046.51,21.83 L1046.05,21.35 L1045.56,20.91 L1045.03,20.52 L1044.47,20.16 L1043.89,19.86 L1043.28,19.6 L1042.66,19.39 L1042.02,19.23 L1041.36,19.13 L1040.7,19.08 L1040.03,19.09 L1039.37,19.16 L1038.71,19.28 L1038.07,19.47 L1037.45,19.72Z" fill="#FF0000" stroke="#3a1500" stroke-opacity="0.8" stroke-width="1"/>
<path d="M1271.3,-5.34 L1268.37,-6.69 L1265.25,-7.5 L1262.04,-7.78 L1258.85,-7.59 L1255.75,-7.03 L1252.8,-6.19 L1250.01,-5.15 L1247.39,-3.98 L1244.91,-2.75 L1242.54,-1.49 L1240.25,-0.22 L1238,1.07 L1235.76,2.37 L1233.52,3.72 L1231.24,5.14 L1228.93,6.67 L1226.61,8.36 L1224.32,10.26 L1222.11,12.39 L1220.08,14.79 L1218.32,17.46 L1216.96,20.38 L1216.1,23.49 L1215.8,26.7 L1216.1,29.91 L1216.96,33.02 L1218.32,35.94 L1220.08,38.61 L1222.11,41.01 L1224.32,43.14 L1226.61,45.04 L1228.93,46.73 L1231.24,48.26 L1233.52,49.68 L1235.76,51.03 L1238,52.33 L1240.25,53.62 L1242.54,54.89 L1244.91,56.15 L1247.39,57.38 L1250.01,58.55 L1252.8,59.59 L1255.75,60.43 L1258.85,60.99 L1262.04,61.18 L1265.25,60.9 L1268.37,60.09 L1271.3,58.74 L1273.93,56.88 L1276.19,54.58 L1278.04,51.94 L1279.48,49.08 L1280.54,46.12 L1281.28,43.14 L1281.77,40.21 L1282.08,37.36 L1282.25,34.59 L1282.35,31.91 L1282.39,29.29 L1282.4,26.7 L1282.39,24.11 L1282.35,21.49 L1282.25,18.81 L1282.08,16.04 L1281.77,13.19 L1281.28,10.26 L1280.54,7.28 L1279.48,4.32 L1278.04,1.46 L1276.19,-1.18 L1273.93,-3.48Z" fill="#FFFF00" stroke="#3a1500" stroke-opacity="0.8" stroke-width="1"/>
<path d="M1266.7,2.62 L1264.52,1.57 L1262.21,0.86 L1259.83,0.47 L1257.44,0.39 L1255.09,0.58 L1252.8,0.99 L1250.6,1.58 L1248.5,2.3 L1246.48,3.12 L1244.55,4.02 L1242.67,4.98 L1240.85,6 L1239.05,7.07 L1237.29,8.21 L1235.54,9.44 L1233.82,10.77 L1232.14,12.24 L1230.54,13.85 L1229.04,15.62 L1227.7,17.56 L1226.57,19.67 L1225.72,21.92 L1225.18,24.28 L1225,26.7 L1225.18,29.12 L1225.72,31.48 L1226.57,33.73 L1227.7,35.84 L1229.04,37.78 L1230.54,39.55 L1232.14,41.16 L1233.82,42.63 L1235.54,43.96 L1237.29,45.19 L1239.05,46.33 L1240.85,47.4 L1242.67,48.42 L1244.55,49.38 L1246.48,50.28 L1248.5,51.1 L1250.6,51.82 L1252.8,52.41 L1255.09,52.82 L1257.44,53.01 L1259.83,52.93 L1262.21,52.54 L1264.52,51.83 L1266.7,50.78 L1268.7,49.41 L1270.48,47.77 L1272,45.9 L1273.26,43.87 L1274.28,41.74 L1275.06,39.55 L1275.65,37.36 L1276.08,35.17 L1276.38,33.02 L1276.57,30.89 L1276.67,28.79 L1276.71,26.7 L1276.67,24.61 L1276.57,22.51 L1276.38,20.38 L1276.08,18.23 L1275.65,16.04 L1275.06,13.85 L1274.28,11.66 L1273.26,9.53 L1272,7.5 L1270.48,5.63 L1268.7,3.99Z" fill="#55FF00" stroke="#3a1500" stroke-opacity="0.8" stroke-width="1"/>
<path d="M1264,7.3 L1262.25,6.44 L1260.4,5.81 L1258.5,5.41 L1256.58,5.24 L1254.68,5.27 L1252.8,5.48 L1250.98,5.84 L1249.21,6.34 L1247.5,6.94 L1245.86,7.63 L1244.27,8.4 L1242.72,9.24 L1241.22,10.16 L1239.75,11.15 L1238.33,12.23 L1236.96,13.41 L1235.65,14.69 L1234.42,16.09 L1233.3,17.61 L1232.32,19.25 L1231.51,21 L1230.9,22.84 L1230.53,24.75 L1230.4,26.7 L1230.53,28.65 L1230.9,30.56 L1231.51,32.4 L1232.32,34.15 L1233.3,35.79 L1234.42,37.31 L1235.65,38.71 L1236.96,39.99 L1238.33,41.17 L1239.75,42.25 L1241.22,43.24 L1242.72,44.16 L1244.27,45 L1245.86,45.77 L1247.5,46.46 L1249.21,47.06 L1250.98,47.56 L1252.8,47.92 L1254.68,48.13 L1256.58,48.16 L1258.5,47.99 L1260.4,47.59 L1262.25,46.96 L1264,46.1 L1265.62,45.01 L1267.09,43.73 L1268.39,42.29 L1269.5,40.71 L1270.42,39.04 L1271.18,37.31 L1271.77,35.55 L1272.23,33.77 L1272.56,32 L1272.79,30.22 L1272.92,28.46 L1272.96,26.7 L1272.92,24.94 L1272.79,23.18 L1272.56,21.4 L1272.23,19.63 L1271.77,17.85 L1271.18,16.09 L1270.42,14.36 L1269.5,12.69 L1268.39,11.11 L1267.09,9.67 L1265.62,8.39Z" fill="#00FF5A" stroke="#3a1500" stroke-opacity="0.8" stroke-width="1"/>
<path d="M1262.1,10.59 L1260.65,9.87 L1259.12,9.32 L1257.55,8.96 L1255.96,8.77 L1254.37,8.75 L1252.8,8.87 L1251.26,9.13 L1249.77,9.5 L1248.32,9.98 L1246.92,10.53 L1245.56,11.17 L1244.24,11.88 L1242.97,12.66 L1241.74,13.52 L1240.56,14.46 L1239.42,15.48 L1238.35,16.59 L1237.36,17.79 L1236.47,19.08 L1235.69,20.47 L1235.06,21.95 L1234.59,23.49 L1234.3,25.08 L1234.2,26.7 L1234.3,28.32 L1234.59,29.91 L1235.06,31.45 L1235.69,32.93 L1236.47,34.32 L1237.36,35.61 L1238.35,36.81 L1239.42,37.92 L1240.56,38.94 L1241.74,39.88 L1242.97,40.74 L1244.24,41.52 L1245.56,42.23 L1246.92,42.87 L1248.32,43.42 L1249.77,43.9 L1251.26,44.27 L1252.8,44.53 L1254.37,44.65 L1255.96,44.63 L1257.55,44.44 L1259.12,44.08 L1260.65,43.53 L1262.1,42.81 L1263.45,41.91 L1264.69,40.87 L1265.79,39.69 L1266.75,38.4 L1267.56,37.04 L1268.24,35.61 L1268.78,34.15 L1269.21,32.67 L1269.52,31.18 L1269.74,29.69 L1269.87,28.19 L1269.91,26.7 L1269.87,25.21 L1269.74,23.71 L1269.52,22.22 L1269.21,20.73 L1268.78,19.25 L1268.24,17.79 L1267.56,16.36 L1266.75,15 L1265.79,13.71 L1264.69,12.53 L1263.45,11.49Z" fill="#00EEFF" stroke="#3a1500" stroke-opacity="0.8" stroke-width="1"/>
<path d="M1260.65,13.1 L1259.43,12.49 L1258.15,12.01 L1256.83,11.68 L1255.48,11.48 L1254.14,11.42 L1252.8,11.49 L1251.48,11.66 L1250.2,11.94 L1248.95,12.32 L1247.73,12.78 L1246.56,13.31 L1245.42,13.92 L1244.33,14.6 L1243.28,15.35 L1242.27,16.17 L1241.32,17.07 L1240.44,18.04 L1239.62,19.09 L1238.9,20.22 L1238.28,21.41 L1237.78,22.67 L1237.4,23.99 L1237.18,25.33 L1237.1,26.7 L1237.18,28.07 L1237.4,29.41 L1237.78,30.73 L1238.28,31.99 L1238.9,33.18 L1239.62,34.31 L1240.44,35.36 L1241.32,36.33 L1242.27,37.23 L1243.28,38.05 L1244.33,38.8 L1245.42,39.48 L1246.56,40.09 L1247.73,40.62 L1248.95,41.08 L1250.2,41.46 L1251.48,41.74 L1252.8,41.91 L1254.14,41.98 L1255.48,41.92 L1256.83,41.72 L1258.15,41.39 L1259.43,40.91 L1260.65,40.3 L1261.8,39.55 L1262.85,38.68 L1263.8,37.7 L1264.64,36.63 L1265.36,35.5 L1265.98,34.31 L1266.48,33.08 L1266.88,31.82 L1267.18,30.55 L1267.39,29.27 L1267.52,27.99 L1267.56,26.7 L1267.52,25.41 L1267.39,24.13 L1267.18,22.85 L1266.88,21.58 L1266.48,20.32 L1265.98,19.09 L1265.36,17.9 L1264.64,16.77 L1263.8,15.7 L1262.85,14.72 L1261.8,13.85Z" fill="#0044FF" stroke="#3a1500" stroke-opacity="0.8" stroke-width="1"/>
<path d="M1255.8,21.5 L1255.33,21.27 L1254.85,21.07 L1254.35,20.93 L1253.83,20.84 L1253.32,20.79 L1252.8,20.79 L1252.29,20.84 L1251.78,20.93 L1251.29,21.05 L1250.81,21.22 L1250.34,21.42 L1249.89,21.66 L1249.46,21.93 L1249.05,22.23 L1248.67,22.57 L1248.31,22.93 L1247.98,23.32 L1247.68,23.75 L1247.42,24.19 L1247.21,24.66 L1247.03,25.15 L1246.9,25.66 L1246.83,26.18 L1246.8,26.7 L1246.83,27.22 L1246.9,27.74 L1247.03,28.25 L1247.21,28.74 L1247.42,29.21 L1247.68,29.65 L1247.98,30.08 L1248.31,30.47 L1248.67,30.83 L1249.05,31.17 L1249.46,31.47 L1249.89,31.74 L1250.34,31.98 L1250.81,32.18 L1251.29,32.35 L1251.78,32.47 L1252.29,32.56 L1252.8,32.61 L1253.32,32.61 L1253.83,32.56 L1254.35,32.47 L1254.85,32.33 L1255.33,32.13 L1255.8,31.9 L1256.24,31.61 L1256.65,31.29 L1257.02,30.92 L1257.36,30.53 L1257.66,30.1 L1257.92,29.65 L1258.13,29.19 L1258.31,28.71 L1258.45,28.21 L1258.54,27.71 L1258.6,27.21 L1258.62,26.7 L1258.6,26.19 L1258.54,25.69 L1258.45,25.19 L1258.31,24.69 L1258.13,24.21 L1257.92,23.75 L1257.66,23.3 L1257.36,22.87 L1257.02,22.48 L1256.65,22.11 L1256.24,21.79Z" fill="#00EEFF" stroke="#3a1500" stroke-opacity="0.8" stroke-width="1"/>
<path d="M1254.45,23.84 L1254.19,23.71 L1253.93,23.6 L1253.65,23.52 L1253.37,23.47 L1253.09,23.44 L1252.8,23.43 L1252.52,23.45 L1252.24,23.5 L1251.96,23.57 L1251.69,23.66 L1251.43,23.77 L1251.18,23.9 L1250.94,24.05 L1250.72,24.22 L1250.51,24.41 L1250.31,24.61 L1250.13,24.83 L1249.97,25.07 L1249.83,25.32 L1249.71,25.58 L1249.62,25.85 L1249.55,26.13 L1249.51,26.41 L1249.5,26.7 L1249.51,26.99 L1249.55,27.27 L1249.62,27.55 L1249.71,27.82 L1249.83,28.08 L1249.97,28.33 L1250.13,28.57 L1250.31,28.79 L1250.51,28.99 L1250.72,29.18 L1250.94,29.35 L1251.18,29.5 L1251.43,29.63 L1251.69,29.74 L1251.96,29.83 L1252.24,29.9 L1252.52,29.95 L1252.8,29.97 L1253.09,29.96 L1253.37,29.93 L1253.65,29.88 L1253.93,29.8 L1254.19,29.69 L1254.45,29.56 L1254.69,29.4 L1254.92,29.22 L1255.13,29.03 L1255.32,28.81 L1255.48,28.58 L1255.63,28.33 L1255.75,28.08 L1255.85,27.81 L1255.93,27.54 L1255.99,27.26 L1256.02,26.98 L1256.03,26.7 L1256.02,26.42 L1255.99,26.14 L1255.93,25.86 L1255.85,25.59 L1255.75,25.32 L1255.63,25.07 L1255.48,24.82 L1255.32,24.59 L1255.13,24.37 L1254.92,24.18 L1254.69,24Z" fill="#00FF5A" stroke="#3a1500" stroke-opacity="0.8" stroke-width="1"/>
<path d="M1396,211.2 L1395.7,207.95 L1394.83,204.81 L1393.45,201.86 L1391.68,199.16 L1389.62,196.73 L1387.39,194.58 L1385.07,192.66 L1382.73,190.96 L1380.39,189.41 L1378.09,187.97 L1375.82,186.61 L1373.56,185.29 L1371.29,183.99 L1368.97,182.7 L1366.58,181.43 L1364.07,180.18 L1361.42,179.01 L1358.6,177.96 L1355.62,177.1 L1352.49,176.53 L1349.26,176.35 L1346.02,176.63 L1342.86,177.45 L1339.9,178.81 L1337.24,180.69 L1334.96,183.02 L1333.09,185.69 L1331.64,188.57 L1330.56,191.57 L1329.81,194.58 L1329.31,197.54 L1329,200.43 L1328.83,203.22 L1328.73,205.93 L1328.69,208.58 L1328.68,211.2 L1328.69,213.82 L1328.73,216.47 L1328.83,219.18 L1329,221.97 L1329.31,224.86 L1329.81,227.82 L1330.56,230.83 L1331.64,233.83 L1333.09,236.71 L1334.96,239.38 L1337.24,241.71 L1339.9,243.59 L1342.86,244.95 L1346.02,245.77 L1349.26,246.05 L1352.49,245.87 L1355.62,245.3 L1358.6,244.44 L1361.42,243.39 L1364.07,242.22 L1366.58,240.97 L1368.97,239.7 L1371.29,238.41 L1373.56,237.11 L1375.82,235.79 L1378.09,234.43 L1380.39,232.99 L1382.73,231.44 L1385.07,229.74 L1387.39,227.82 L1389.62,225.67 L1391.68,223.24 L1393.45,220.54 L1394.83,217.59 L1395.7,214.45Z" fill="#FFFF00" stroke="#3a1500" stroke-opacity="0.8" stroke-width="1"/>
<path d="M1383.9,211.2 L1383.73,209 L1383.25,206.85 L1382.47,204.8 L1381.44,202.89 L1380.22,201.12 L1378.86,199.5 L1377.4,198.04 L1375.87,196.71 L1374.31,195.49 L1372.72,194.37 L1371.11,193.33 L1369.48,192.36 L1367.82,191.43 L1366.11,190.56 L1364.35,189.74 L1362.52,189 L1360.6,188.34 L1358.6,187.8 L1356.52,187.43 L1354.38,187.26 L1352.2,187.33 L1350.04,187.68 L1347.94,188.33 L1345.95,189.29 L1344.13,190.53 L1342.51,192.03 L1341.13,193.73 L1339.98,195.57 L1339.05,197.51 L1338.34,199.5 L1337.8,201.5 L1337.41,203.49 L1337.14,205.45 L1336.97,207.39 L1336.87,209.3 L1336.84,211.2 L1336.87,213.1 L1336.97,215.01 L1337.14,216.95 L1337.41,218.91 L1337.8,220.9 L1338.34,222.9 L1339.05,224.89 L1339.98,226.83 L1341.13,228.67 L1342.51,230.37 L1344.13,231.87 L1345.95,233.11 L1347.94,234.07 L1350.04,234.72 L1352.2,235.07 L1354.38,235.14 L1356.52,234.97 L1358.6,234.6 L1360.6,234.06 L1362.52,233.4 L1364.35,232.66 L1366.11,231.84 L1367.82,230.97 L1369.48,230.04 L1371.11,229.07 L1372.72,228.03 L1374.31,226.91 L1375.87,225.69 L1377.4,224.36 L1378.86,222.9 L1380.22,221.28 L1381.44,219.51 L1382.47,217.6 L1383.25,215.55 L1383.73,213.4Z" fill="#55FF00" stroke="#3a1500" stroke-opacity="0.8" stroke-width="1"/>
<path d="M1378.1,211.2 L1377.99,209.5 L1377.66,207.84 L1377.13,206.23 L1376.43,204.71 L1375.57,203.28 L1374.6,201.96 L1373.53,200.75 L1372.39,199.63 L1371.19,198.61 L1369.96,197.67 L1368.68,196.8 L1367.38,196 L1366.03,195.27 L1364.64,194.6 L1363.21,194 L1361.73,193.47 L1360.19,193.04 L1358.6,192.73 L1356.97,192.54 L1355.31,192.52 L1353.63,192.67 L1351.98,193.01 L1350.37,193.56 L1348.85,194.31 L1347.44,195.26 L1346.16,196.37 L1345.03,197.63 L1344.07,199 L1343.26,200.46 L1342.6,201.96 L1342.08,203.5 L1341.69,205.04 L1341.4,206.59 L1341.2,208.13 L1341.09,209.67 L1341.05,211.2 L1341.09,212.73 L1341.2,214.27 L1341.4,215.81 L1341.69,217.36 L1342.08,218.9 L1342.6,220.44 L1343.26,221.94 L1344.07,223.4 L1345.03,224.77 L1346.16,226.03 L1347.44,227.14 L1348.85,228.09 L1350.37,228.84 L1351.98,229.39 L1353.63,229.73 L1355.31,229.88 L1356.97,229.86 L1358.6,229.67 L1360.19,229.36 L1361.73,228.93 L1363.21,228.4 L1364.64,227.8 L1366.03,227.13 L1367.38,226.4 L1368.68,225.6 L1369.96,224.73 L1371.19,223.79 L1372.39,222.77 L1373.53,221.65 L1374.6,220.44 L1375.57,219.12 L1376.43,217.69 L1377.13,216.17 L1377.66,214.56 L1377.99,212.9Z" fill="#00FF5A" stroke="#3a1500" stroke-opacity="0.8" stroke-width="1"/>
<path d="M1374.5,211.2 L1374.42,209.82 L1374.17,208.45 L1373.77,207.14 L1373.22,205.88 L1372.56,204.69 L1371.8,203.58 L1370.95,202.55 L1370.03,201.61 L1369.07,200.73 L1368.05,199.93 L1367,199.2 L1365.91,198.53 L1364.79,197.92 L1363.63,197.38 L1362.43,196.9 L1361.19,196.5 L1359.91,196.18 L1358.6,195.96 L1357.26,195.86 L1355.9,195.87 L1354.54,196.03 L1353.19,196.35 L1351.89,196.81 L1350.65,197.43 L1349.49,198.19 L1348.44,199.09 L1347.5,200.1 L1346.68,201.2 L1345.98,202.36 L1345.4,203.58 L1344.94,204.83 L1344.57,206.09 L1344.3,207.37 L1344.12,208.65 L1344.01,209.92 L1343.97,211.2 L1344.01,212.48 L1344.12,213.75 L1344.3,215.03 L1344.57,216.31 L1344.94,217.57 L1345.4,218.82 L1345.98,220.04 L1346.68,221.2 L1347.5,222.3 L1348.44,223.31 L1349.49,224.21 L1350.65,224.97 L1351.89,225.59 L1353.19,226.05 L1354.54,226.37 L1355.9,226.53 L1357.26,226.54 L1358.6,226.44 L1359.91,226.22 L1361.19,225.9 L1362.43,225.5 L1363.63,225.02 L1364.79,224.48 L1365.91,223.87 L1367,223.2 L1368.05,222.47 L1369.07,221.67 L1370.03,220.79 L1370.95,219.85 L1371.8,218.82 L1372.56,217.71 L1373.22,216.52 L1373.77,215.26 L1374.17,213.95 L1374.42,212.58Z" fill="#00EEFF" stroke="#3a1500" stroke-opacity="0.8" stroke-width="1"/>
<path d="M1372.5,211.2 L1372.43,209.99 L1372.23,208.8 L1371.9,207.64 L1371.46,206.52 L1370.91,205.46 L1370.27,204.46 L1369.55,203.54 L1368.76,202.67 L1367.92,201.88 L1367.03,201.15 L1366.1,200.49 L1365.13,199.88 L1364.13,199.35 L1363.09,198.87 L1362.01,198.47 L1360.9,198.14 L1359.76,197.89 L1358.6,197.73 L1357.42,197.67 L1356.22,197.73 L1355.04,197.9 L1353.87,198.19 L1352.73,198.62 L1351.65,199.16 L1350.64,199.83 L1349.7,200.6 L1348.86,201.46 L1348.12,202.41 L1347.48,203.41 L1346.93,204.46 L1346.49,205.55 L1346.14,206.66 L1345.87,207.79 L1345.68,208.92 L1345.57,210.06 L1345.53,211.2 L1345.57,212.34 L1345.68,213.48 L1345.87,214.61 L1346.14,215.74 L1346.49,216.85 L1346.93,217.94 L1347.48,218.99 L1348.12,219.99 L1348.86,220.94 L1349.7,221.8 L1350.64,222.57 L1351.65,223.24 L1352.73,223.78 L1353.87,224.21 L1355.04,224.5 L1356.22,224.67 L1357.42,224.73 L1358.6,224.67 L1359.76,224.51 L1360.9,224.26 L1362.01,223.93 L1363.09,223.53 L1364.13,223.05 L1365.13,222.52 L1366.1,221.91 L1367.03,221.25 L1367.92,220.52 L1368.76,219.73 L1369.55,218.86 L1370.27,217.94 L1370.91,216.94 L1371.46,215.88 L1371.9,214.76 L1372.23,213.6 L1372.43,212.41Z" fill="#0033EE" stroke="#3a1500" stroke-opacity="0.8" stroke-width="1"/>
<path d="M1368.2,211.2 L1368.16,210.36 L1368.03,209.54 L1367.82,208.73 L1367.53,207.95 L1367.17,207.2 L1366.74,206.5 L1366.26,205.83 L1365.73,205.22 L1365.16,204.64 L1364.54,204.12 L1363.89,203.65 L1363.21,203.22 L1362.5,202.84 L1361.76,202.52 L1361,202.25 L1360.22,202.03 L1359.42,201.88 L1358.6,201.8 L1357.78,201.78 L1356.95,201.84 L1356.13,201.98 L1355.33,202.2 L1354.55,202.51 L1353.8,202.89 L1353.1,203.34 L1352.45,203.87 L1351.85,204.45 L1351.32,205.09 L1350.86,205.78 L1350.46,206.5 L1350.12,207.25 L1349.85,208.02 L1349.65,208.8 L1349.5,209.6 L1349.41,210.4 L1349.38,211.2 L1349.41,212 L1349.5,212.8 L1349.65,213.6 L1349.85,214.38 L1350.12,215.15 L1350.46,215.9 L1350.86,216.62 L1351.32,217.31 L1351.85,217.95 L1352.45,218.53 L1353.1,219.06 L1353.8,219.51 L1354.55,219.89 L1355.33,220.2 L1356.13,220.42 L1356.95,220.56 L1357.78,220.62 L1358.6,220.6 L1359.42,220.52 L1360.22,220.37 L1361,220.15 L1361.76,219.88 L1362.5,219.56 L1363.21,219.18 L1363.89,218.75 L1364.54,218.28 L1365.16,217.76 L1365.73,217.18 L1366.26,216.57 L1366.74,215.9 L1367.17,215.2 L1367.53,214.45 L1367.82,213.67 L1368.03,212.86 L1368.16,212.04Z" fill="#6600FF" stroke="#3a1500" stroke-opacity="0.8" stroke-width="1"/>
<path d="M1367.2,211.2 L1367.16,210.45 L1367.05,209.71 L1366.87,208.98 L1366.62,208.28 L1366.31,207.61 L1365.93,206.97 L1365.51,206.36 L1365.04,205.8 L1364.52,205.28 L1363.97,204.8 L1363.39,204.36 L1362.77,203.98 L1362.13,203.64 L1361.46,203.35 L1360.77,203.11 L1360.06,202.92 L1359.34,202.8 L1358.6,202.73 L1357.86,202.73 L1357.12,202.8 L1356.38,202.93 L1355.66,203.14 L1354.97,203.41 L1354.3,203.75 L1353.67,204.16 L1353.08,204.63 L1352.55,205.15 L1352.06,205.71 L1351.64,206.32 L1351.27,206.97 L1350.95,207.63 L1350.7,208.33 L1350.51,209.03 L1350.37,209.75 L1350.29,210.47 L1350.26,211.2 L1350.29,211.93 L1350.37,212.65 L1350.51,213.37 L1350.7,214.07 L1350.95,214.77 L1351.27,215.43 L1351.64,216.08 L1352.06,216.69 L1352.55,217.25 L1353.08,217.77 L1353.67,218.24 L1354.3,218.65 L1354.97,218.99 L1355.66,219.26 L1356.38,219.47 L1357.12,219.6 L1357.86,219.67 L1358.6,219.67 L1359.34,219.6 L1360.06,219.48 L1360.77,219.29 L1361.46,219.05 L1362.13,218.76 L1362.77,218.42 L1363.39,218.04 L1363.97,217.6 L1364.52,217.12 L1365.04,216.6 L1365.51,216.04 L1365.93,215.43 L1366.31,214.79 L1366.62,214.12 L1366.87,213.42 L1367.05,212.69 L1367.16,211.95Z" fill="#FF00E6" stroke="#3a1500" stroke-opacity="0.8" stroke-width="1"/>
<path d="M1366.3,211.2 L1366.27,210.53 L1366.17,209.86 L1366.02,209.21 L1365.8,208.58 L1365.53,207.97 L1365.2,207.39 L1364.83,206.84 L1364.41,206.33 L1363.95,205.85 L1363.46,205.41 L1362.93,205.02 L1362.37,204.66 L1361.79,204.36 L1361.18,204.1 L1360.56,203.89 L1359.92,203.73 L1359.26,203.63 L1358.6,203.58 L1357.93,203.59 L1357.27,203.66 L1356.61,203.78 L1355.97,203.97 L1355.35,204.22 L1354.75,204.53 L1354.18,204.89 L1353.66,205.31 L1353.17,205.77 L1352.73,206.28 L1352.34,206.82 L1352,207.39 L1351.71,207.99 L1351.47,208.61 L1351.29,209.24 L1351.16,209.89 L1351.08,210.54 L1351.05,211.2 L1351.08,211.86 L1351.16,212.51 L1351.29,213.16 L1351.47,213.79 L1351.71,214.41 L1352,215.01 L1352.34,215.58 L1352.73,216.12 L1353.17,216.63 L1353.66,217.09 L1354.18,217.51 L1354.75,217.87 L1355.35,218.18 L1355.97,218.43 L1356.61,218.62 L1357.27,218.74 L1357.93,218.81 L1358.6,218.82 L1359.26,218.77 L1359.92,218.67 L1360.56,218.51 L1361.18,218.3 L1361.79,218.04 L1362.37,217.74 L1362.93,217.38 L1363.46,216.99 L1363.95,216.55 L1364.41,216.07 L1364.83,215.56 L1365.2,215.01 L1365.53,214.43 L1365.8,213.82 L1366.02,213.19 L1366.17,212.54 L1366.27,211.87Z" fill="#FF0000" stroke="#3a1500" stroke-opacity="0.8" stroke-width="1"/>
<path d="M1271.3,427.94 L1273.93,426.08 L1276.19,423.78 L1278.04,421.14 L1279.48,418.28 L1280.54,415.32 L1281.28,412.34 L1281.77,409.41 L1282.08,406.56 L1282.25,403.79 L1282.35,401.11 L1282.39,398.49 L1282.4,395.9 L1282.39,393.31 L1282.35,390.69 L1282.25,388.01 L1282.08,385.24 L1281.77,382.39 L1281.28,379.46 L1280.54,376.48 L1279.48,373.52 L1278.04,370.66 L1276.19,368.02 L1273.93,365.72 L1271.3,363.86 L1268.37,362.51 L1265.25,361.7 L1262.04,361.42 L1258.85,361.61 L1255.75,362.17 L1252.8,363.01 L1250.01,364.05 L1247.39,365.22 L1244.91,366.45 L1242.54,367.71 L1240.25,368.98 L1238,370.27 L1235.76,371.57 L1233.52,372.92 L1231.24,374.34 L1228.93,375.87 L1226.61,377.56 L1224.32,379.46 L1222.11,381.59 L1220.08,383.99 L1218.32,386.66 L1216.96,389.58 L1216.1,392.69 L1215.8,395.9 L1216.1,399.11 L1216.96,402.22 L1218.32,405.14 L1220.08,407.81 L1222.11,410.21 L1224.32,412.34 L1226.61,414.24 L1228.93,415.93 L1231.24,417.46 L1233.52,418.88 L1235.76,420.23 L1238,421.53 L1240.25,422.82 L1242.54,424.09 L1244.91,425.35 L1247.39,426.58 L1250.01,427.75 L1252.8,428.79 L1255.75,429.63 L1258.85,430.19 L1262.04,430.38 L1265.25,430.1 L1268.37,429.29Z" fill="#FFFF00" stroke="#3a1500" stroke-opacity="0.8" stroke-width="1"/>
<path d="M1266.7,419.98 L1268.7,418.61 L1270.48,416.97 L1272,415.1 L1273.26,413.07 L1274.28,410.94 L1275.06,408.75 L1275.65,406.56 L1276.08,404.37 L1276.38,402.22 L1276.57,400.09 L1276.67,397.99 L1276.71,395.9 L1276.67,393.81 L1276.57,391.71 L1276.38,389.58 L1276.08,387.43 L1275.65,385.24 L1275.06,383.05 L1274.28,380.86 L1273.26,378.73 L1272,376.7 L1270.48,374.83 L1268.7,373.19 L1266.7,371.82 L1264.52,370.77 L1262.21,370.06 L1259.83,369.67 L1257.44,369.59 L1255.09,369.78 L1252.8,370.19 L1250.6,370.78 L1248.5,371.5 L1246.48,372.32 L1244.55,373.22 L1242.67,374.18 L1240.85,375.2 L1239.05,376.27 L1237.29,377.41 L1235.54,378.64 L1233.82,379.97 L1232.14,381.44 L1230.54,383.05 L1229.04,384.82 L1227.7,386.76 L1226.57,388.87 L1225.72,391.12 L1225.18,393.48 L1225,395.9 L1225.18,398.32 L1225.72,400.68 L1226.57,402.93 L1227.7,405.04 L1229.04,406.98 L1230.54,408.75 L1232.14,410.36 L1233.82,411.83 L1235.54,413.16 L1237.29,414.39 L1239.05,415.53 L1240.85,416.6 L1242.67,417.62 L1244.55,418.58 L1246.48,419.48 L1248.5,420.3 L1250.6,421.02 L1252.8,421.61 L1255.09,422.02 L1257.44,422.21 L1259.83,422.13 L1262.21,421.74 L1264.52,421.03Z" fill="#55FF00" stroke="#3a1500" stroke-opacity="0.8" stroke-width="1"/>
<path d="M1264,415.3 L1265.62,414.21 L1267.09,412.93 L1268.39,411.49 L1269.5,409.91 L1270.42,408.24 L1271.18,406.51 L1271.77,404.75 L1272.23,402.97 L1272.56,401.2 L1272.79,399.42 L1272.92,397.66 L1272.96,395.9 L1272.92,394.14 L1272.79,392.38 L1272.56,390.6 L1272.23,388.83 L1271.77,387.05 L1271.18,385.29 L1270.42,383.56 L1269.5,381.89 L1268.39,380.31 L1267.09,378.87 L1265.62,377.59 L1264,376.5 L1262.25,375.64 L1260.4,375.01 L1258.5,374.61 L1256.58,374.44 L1254.68,374.47 L1252.8,374.68 L1250.98,375.04 L1249.21,375.54 L1247.5,376.14 L1245.86,376.83 L1244.27,377.6 L1242.72,378.44 L1241.22,379.36 L1239.75,380.35 L1238.33,381.43 L1236.96,382.61 L1235.65,383.89 L1234.42,385.29 L1233.3,386.81 L1232.32,388.45 L1231.51,390.2 L1230.9,392.04 L1230.53,393.95 L1230.4,395.9 L1230.53,397.85 L1230.9,399.76 L1231.51,401.6 L1232.32,403.35 L1233.3,404.99 L1234.42,406.51 L1235.65,407.91 L1236.96,409.19 L1238.33,410.37 L1239.75,411.45 L1241.22,412.44 L1242.72,413.36 L1244.27,414.2 L1245.86,414.97 L1247.5,415.66 L1249.21,416.26 L1250.98,416.76 L1252.8,417.12 L1254.68,417.33 L1256.58,417.36 L1258.5,417.19 L1260.4,416.79 L1262.25,416.16Z" fill="#00FF5A" stroke="#3a1500" stroke-opacity="0.8" stroke-width="1"/>
<path d="M1262.1,412.01 L1263.45,411.11 L1264.69,410.07 L1265.79,408.89 L1266.75,407.6 L1267.56,406.24 L1268.24,404.81 L1268.78,403.35 L1269.21,401.87 L1269.52,400.38 L1269.74,398.89 L1269.87,397.39 L1269.91,395.9 L1269.87,394.41 L1269.74,392.91 L1269.52,391.42 L1269.21,389.93 L1268.78,388.45 L1268.24,386.99 L1267.56,385.56 L1266.75,384.2 L1265.79,382.91 L1264.69,381.73 L1263.45,380.69 L1262.1,379.79 L1260.65,379.07 L1259.12,378.52 L1257.55,378.16 L1255.96,377.97 L1254.37,377.95 L1252.8,378.07 L1251.26,378.33 L1249.77,378.7 L1248.32,379.18 L1246.92,379.73 L1245.56,380.37 L1244.24,381.08 L1242.97,381.86 L1241.74,382.72 L1240.56,383.66 L1239.42,384.68 L1238.35,385.79 L1237.36,386.99 L1236.47,388.28 L1235.69,389.67 L1235.06,391.15 L1234.59,392.69 L1234.3,394.28 L1234.2,395.9 L1234.3,397.52 L1234.59,399.11 L1235.06,400.65 L1235.69,402.13 L1236.47,403.52 L1237.36,404.81 L1238.35,406.01 L1239.42,407.12 L1240.56,408.14 L1241.74,409.08 L1242.97,409.94 L1244.24,410.72 L1245.56,411.43 L1246.92,412.07 L1248.32,412.62 L1249.77,413.1 L1251.26,413.47 L1252.8,413.72 L1254.37,413.85 L1255.96,413.83 L1257.55,413.64 L1259.12,413.28 L1260.65,412.73Z" fill="#00EEFF" stroke="#3a1500" stroke-opacity="0.8" stroke-width="1"/>
<path d="M1260.65,409.5 L1261.8,408.75 L1262.85,407.88 L1263.8,406.9 L1264.64,405.83 L1265.36,404.7 L1265.98,403.51 L1266.48,402.28 L1266.88,401.02 L1267.18,399.75 L1267.39,398.47 L1267.52,397.19 L1267.56,395.9 L1267.52,394.61 L1267.39,393.33 L1267.18,392.05 L1266.88,390.78 L1266.48,389.52 L1265.98,388.29 L1265.36,387.1 L1264.64,385.97 L1263.8,384.9 L1262.85,383.92 L1261.8,383.05 L1260.65,382.3 L1259.43,381.69 L1258.15,381.21 L1256.83,380.88 L1255.48,380.68 L1254.14,380.62 L1252.8,380.69 L1251.48,380.86 L1250.2,381.14 L1248.95,381.52 L1247.73,381.98 L1246.56,382.51 L1245.42,383.12 L1244.33,383.8 L1243.28,384.55 L1242.27,385.37 L1241.32,386.27 L1240.44,387.24 L1239.62,388.29 L1238.9,389.42 L1238.28,390.61 L1237.78,391.87 L1237.4,393.19 L1237.18,394.53 L1237.1,395.9 L1237.18,397.27 L1237.4,398.61 L1237.78,399.93 L1238.28,401.19 L1238.9,402.38 L1239.62,403.51 L1240.44,404.56 L1241.32,405.53 L1242.27,406.43 L1243.28,407.25 L1244.33,408 L1245.42,408.68 L1246.56,409.29 L1247.73,409.82 L1248.95,410.28 L1250.2,410.66 L1251.48,410.94 L1252.8,411.11 L1254.14,411.18 L1255.48,411.12 L1256.83,410.92 L1258.15,410.59 L1259.43,410.11Z" fill="#0044FF" stroke="#3a1500" stroke-opacity="0.8" stroke-width="1"/>
<path d="M1255.8,401.1 L1256.24,400.81 L1256.65,400.49 L1257.02,400.12 L1257.36,399.73 L1257.66,399.3 L1257.92,398.85 L1258.13,398.39 L1258.31,397.91 L1258.45,397.41 L1258.54,396.91 L1258.6,396.41 L1258.62,395.9 L1258.6,395.39 L1258.54,394.89 L1258.45,394.39 L1258.31,393.89 L1258.13,393.41 L1257.92,392.95 L1257.66,392.5 L1257.36,392.07 L1257.02,391.68 L1256.65,391.31 L1256.24,390.99 L1255.8,390.7 L1255.33,390.47 L1254.85,390.27 L1254.35,390.13 L1253.83,390.04 L1253.32,389.99 L1252.8,389.99 L1252.29,390.04 L1251.78,390.13 L1251.29,390.25 L1250.81,390.42 L1250.34,390.62 L1249.89,390.86 L1249.46,391.13 L1249.05,391.43 L1248.67,391.77 L1248.31,392.13 L1247.98,392.52 L1247.68,392.95 L1247.42,393.39 L1247.21,393.86 L1247.03,394.35 L1246.9,394.86 L1246.83,395.38 L1246.8,395.9 L1246.83,396.42 L1246.9,396.94 L1247.03,397.45 L1247.21,397.94 L1247.42,398.41 L1247.68,398.85 L1247.98,399.28 L1248.31,399.67 L1248.67,400.03 L1249.05,400.37 L1249.46,400.67 L1249.89,400.94 L1250.34,401.18 L1250.81,401.38 L1251.29,401.55 L1251.78,401.67 L1252.29,401.76 L1252.8,401.81 L1253.32,401.81 L1253.83,401.76 L1254.35,401.67 L1254.85,401.53 L1255.33,401.33Z" fill="#00EEFF" stroke="#3a1500" stroke-opacity="0.8" stroke-width="1"/>
<path d="M1254.45,398.76 L1254.69,398.6 L1254.92,398.42 L1255.13,398.23 L1255.32,398.01 L1255.48,397.78 L1255.63,397.53 L1255.75,397.28 L1255.85,397.01 L1255.93,396.74 L1255.99,396.46 L1256.02,396.18 L1256.03,395.9 L1256.02,395.62 L1255.99,395.34 L1255.93,395.06 L1255.85,394.79 L1255.75,394.52 L1255.63,394.27 L1255.48,394.02 L1255.32,393.79 L1255.13,393.57 L1254.92,393.38 L1254.69,393.2 L1254.45,393.04 L1254.19,392.91 L1253.93,392.8 L1253.65,392.72 L1253.37,392.67 L1253.09,392.64 L1252.8,392.63 L1252.52,392.65 L1252.24,392.7 L1251.96,392.77 L1251.69,392.86 L1251.43,392.97 L1251.18,393.1 L1250.94,393.25 L1250.72,393.42 L1250.51,393.61 L1250.31,393.81 L1250.13,394.03 L1249.97,394.27 L1249.83,394.52 L1249.71,394.78 L1249.62,395.05 L1249.55,395.33 L1249.51,395.61 L1249.5,395.9 L1249.51,396.19 L1249.55,396.47 L1249.62,396.75 L1249.71,397.02 L1249.83,397.28 L1249.97,397.53 L1250.13,397.77 L1250.31,397.99 L1250.51,398.19 L1250.72,398.38 L1250.94,398.55 L1251.18,398.7 L1251.43,398.83 L1251.69,398.94 L1251.96,399.03 L1252.24,399.1 L1252.52,399.15 L1252.8,399.17 L1253.09,399.16 L1253.37,399.13 L1253.65,399.08 L1253.93,399 L1254.19,398.89Z" fill="#00FF5A" stroke="#3a1500" stroke-opacity="0.8" stroke-width="1"/>
<path d="M1022,428.29 L1024.96,429.65 L1028.12,430.47 L1031.36,430.75 L1034.59,430.57 L1037.72,430 L1040.7,429.14 L1043.52,428.09 L1046.17,426.92 L1048.68,425.67 L1051.07,424.4 L1053.39,423.11 L1055.66,421.81 L1057.92,420.49 L1060.19,419.13 L1062.49,417.69 L1064.83,416.14 L1067.17,414.44 L1069.49,412.52 L1071.72,410.37 L1073.78,407.94 L1075.55,405.24 L1076.93,402.29 L1077.8,399.15 L1078.1,395.9 L1077.8,392.65 L1076.93,389.51 L1075.55,386.56 L1073.78,383.86 L1071.72,381.43 L1069.49,379.28 L1067.17,377.36 L1064.83,375.66 L1062.49,374.11 L1060.19,372.67 L1057.92,371.31 L1055.66,369.99 L1053.39,368.69 L1051.07,367.4 L1048.68,366.13 L1046.17,364.88 L1043.52,363.71 L1040.7,362.66 L1037.72,361.8 L1034.59,361.23 L1031.36,361.05 L1028.12,361.33 L1024.96,362.15 L1022,363.51 L1019.34,365.39 L1017.06,367.72 L1015.19,370.39 L1013.74,373.27 L1012.66,376.27 L1011.91,379.28 L1011.41,382.24 L1011.1,385.13 L1010.93,387.92 L1010.83,390.63 L1010.79,393.28 L1010.78,395.9 L1010.79,398.52 L1010.83,401.17 L1010.93,403.88 L1011.1,406.67 L1011.41,409.56 L1011.91,412.52 L1012.66,415.53 L1013.74,418.53 L1015.19,421.41 L1017.06,424.08 L1019.34,426.41Z" fill="#FFFF00" stroke="#3a1500" stroke-opacity="0.8" stroke-width="1"/>
<path d="M1028.05,417.81 L1030.04,418.77 L1032.14,419.42 L1034.3,419.77 L1036.48,419.84 L1038.62,419.67 L1040.7,419.3 L1042.7,418.76 L1044.62,418.1 L1046.45,417.36 L1048.21,416.54 L1049.92,415.67 L1051.58,414.74 L1053.21,413.77 L1054.82,412.73 L1056.41,411.61 L1057.97,410.39 L1059.5,409.06 L1060.96,407.6 L1062.32,405.98 L1063.54,404.21 L1064.57,402.3 L1065.35,400.25 L1065.83,398.1 L1066,395.9 L1065.83,393.7 L1065.35,391.55 L1064.57,389.5 L1063.54,387.59 L1062.32,385.82 L1060.96,384.2 L1059.5,382.74 L1057.97,381.41 L1056.41,380.19 L1054.82,379.07 L1053.21,378.03 L1051.58,377.06 L1049.92,376.13 L1048.21,375.26 L1046.45,374.44 L1044.62,373.7 L1042.7,373.04 L1040.7,372.5 L1038.62,372.13 L1036.48,371.96 L1034.3,372.03 L1032.14,372.38 L1030.04,373.03 L1028.05,373.99 L1026.23,375.23 L1024.61,376.73 L1023.23,378.43 L1022.08,380.27 L1021.15,382.21 L1020.44,384.2 L1019.9,386.2 L1019.51,388.19 L1019.24,390.15 L1019.07,392.09 L1018.97,394 L1018.94,395.9 L1018.97,397.8 L1019.07,399.71 L1019.24,401.65 L1019.51,403.61 L1019.9,405.6 L1020.44,407.6 L1021.15,409.59 L1022.08,411.53 L1023.23,413.37 L1024.61,415.07 L1026.23,416.57Z" fill="#55FF00" stroke="#3a1500" stroke-opacity="0.8" stroke-width="1"/>
<path d="M1030.95,412.79 L1032.47,413.54 L1034.08,414.09 L1035.73,414.43 L1037.41,414.58 L1039.07,414.56 L1040.7,414.37 L1042.29,414.06 L1043.83,413.63 L1045.31,413.1 L1046.74,412.5 L1048.13,411.83 L1049.48,411.1 L1050.78,410.3 L1052.06,409.43 L1053.29,408.49 L1054.49,407.47 L1055.63,406.35 L1056.7,405.14 L1057.67,403.82 L1058.53,402.39 L1059.23,400.87 L1059.76,399.26 L1060.09,397.6 L1060.2,395.9 L1060.09,394.2 L1059.76,392.54 L1059.23,390.93 L1058.53,389.41 L1057.67,387.98 L1056.7,386.66 L1055.63,385.45 L1054.49,384.33 L1053.29,383.31 L1052.06,382.37 L1050.78,381.5 L1049.48,380.7 L1048.13,379.97 L1046.74,379.3 L1045.31,378.7 L1043.83,378.17 L1042.29,377.74 L1040.7,377.43 L1039.07,377.24 L1037.41,377.22 L1035.73,377.37 L1034.08,377.71 L1032.47,378.26 L1030.95,379.01 L1029.54,379.96 L1028.26,381.07 L1027.13,382.33 L1026.17,383.7 L1025.36,385.16 L1024.7,386.66 L1024.18,388.2 L1023.79,389.74 L1023.5,391.29 L1023.3,392.83 L1023.19,394.37 L1023.15,395.9 L1023.19,397.43 L1023.3,398.97 L1023.5,400.51 L1023.79,402.06 L1024.18,403.6 L1024.7,405.14 L1025.36,406.64 L1026.17,408.1 L1027.13,409.47 L1028.26,410.73 L1029.54,411.84Z" fill="#00FF5A" stroke="#3a1500" stroke-opacity="0.8" stroke-width="1"/>
<path d="M1032.75,409.67 L1033.99,410.29 L1035.29,410.75 L1036.64,411.07 L1038,411.23 L1039.36,411.24 L1040.7,411.14 L1042.01,410.92 L1043.29,410.6 L1044.53,410.2 L1045.73,409.72 L1046.89,409.18 L1048.01,408.57 L1049.1,407.9 L1050.15,407.17 L1051.17,406.37 L1052.13,405.49 L1053.05,404.55 L1053.9,403.52 L1054.66,402.41 L1055.32,401.22 L1055.87,399.96 L1056.27,398.65 L1056.52,397.28 L1056.6,395.9 L1056.52,394.52 L1056.27,393.15 L1055.87,391.84 L1055.32,390.58 L1054.66,389.39 L1053.9,388.28 L1053.05,387.25 L1052.13,386.31 L1051.17,385.43 L1050.15,384.63 L1049.1,383.9 L1048.01,383.23 L1046.89,382.62 L1045.73,382.08 L1044.53,381.6 L1043.29,381.2 L1042.01,380.88 L1040.7,380.66 L1039.36,380.56 L1038,380.57 L1036.64,380.73 L1035.29,381.05 L1033.99,381.51 L1032.75,382.13 L1031.59,382.89 L1030.54,383.79 L1029.6,384.8 L1028.78,385.9 L1028.08,387.06 L1027.5,388.28 L1027.04,389.53 L1026.67,390.79 L1026.4,392.07 L1026.22,393.35 L1026.11,394.62 L1026.07,395.9 L1026.11,397.18 L1026.22,398.45 L1026.4,399.73 L1026.67,401.01 L1027.04,402.27 L1027.5,403.52 L1028.08,404.74 L1028.78,405.9 L1029.6,407 L1030.54,408.01 L1031.59,408.91Z" fill="#00EEFF" stroke="#3a1500" stroke-opacity="0.8" stroke-width="1"/>
<path d="M1033.75,407.94 L1034.83,408.48 L1035.97,408.91 L1037.14,409.2 L1038.32,409.37 L1039.52,409.43 L1040.7,409.37 L1041.86,409.21 L1043,408.96 L1044.11,408.63 L1045.19,408.23 L1046.23,407.75 L1047.23,407.22 L1048.2,406.61 L1049.13,405.95 L1050.02,405.22 L1050.86,404.43 L1051.65,403.56 L1052.37,402.64 L1053.01,401.64 L1053.56,400.58 L1054,399.46 L1054.33,398.3 L1054.53,397.11 L1054.6,395.9 L1054.53,394.69 L1054.33,393.5 L1054,392.34 L1053.56,391.22 L1053.01,390.16 L1052.37,389.16 L1051.65,388.24 L1050.86,387.37 L1050.02,386.58 L1049.13,385.85 L1048.2,385.19 L1047.23,384.58 L1046.23,384.05 L1045.19,383.57 L1044.11,383.17 L1043,382.84 L1041.86,382.59 L1040.7,382.43 L1039.52,382.37 L1038.32,382.43 L1037.14,382.6 L1035.97,382.89 L1034.83,383.32 L1033.75,383.86 L1032.74,384.53 L1031.8,385.3 L1030.96,386.16 L1030.22,387.11 L1029.58,388.11 L1029.03,389.16 L1028.59,390.25 L1028.24,391.36 L1027.97,392.49 L1027.78,393.62 L1027.67,394.76 L1027.63,395.9 L1027.67,397.04 L1027.78,398.18 L1027.97,399.31 L1028.24,400.44 L1028.59,401.55 L1029.03,402.64 L1029.58,403.69 L1030.22,404.69 L1030.96,405.64 L1031.8,406.5 L1032.74,407.27Z" fill="#0033EE" stroke="#3a1500" stroke-opacity="0.8" stroke-width="1"/>
<path d="M1035.9,404.21 L1036.65,404.59 L1037.43,404.9 L1038.23,405.12 L1039.05,405.26 L1039.88,405.32 L1040.7,405.3 L1041.52,405.22 L1042.32,405.07 L1043.1,404.85 L1043.86,404.58 L1044.6,404.26 L1045.31,403.88 L1045.99,403.45 L1046.64,402.98 L1047.26,402.46 L1047.83,401.88 L1048.36,401.27 L1048.84,400.6 L1049.27,399.9 L1049.63,399.15 L1049.92,398.37 L1050.13,397.56 L1050.26,396.74 L1050.3,395.9 L1050.26,395.06 L1050.13,394.24 L1049.92,393.43 L1049.63,392.65 L1049.27,391.9 L1048.84,391.2 L1048.36,390.53 L1047.83,389.92 L1047.26,389.34 L1046.64,388.82 L1045.99,388.35 L1045.31,387.92 L1044.6,387.54 L1043.86,387.22 L1043.1,386.95 L1042.32,386.73 L1041.52,386.58 L1040.7,386.5 L1039.88,386.48 L1039.05,386.54 L1038.23,386.68 L1037.43,386.9 L1036.65,387.21 L1035.9,387.59 L1035.2,388.04 L1034.55,388.57 L1033.95,389.15 L1033.42,389.79 L1032.96,390.48 L1032.56,391.2 L1032.22,391.95 L1031.95,392.72 L1031.75,393.5 L1031.6,394.3 L1031.51,395.1 L1031.48,395.9 L1031.51,396.7 L1031.6,397.5 L1031.75,398.3 L1031.95,399.08 L1032.22,399.85 L1032.56,400.6 L1032.96,401.32 L1033.42,402.01 L1033.95,402.65 L1034.55,403.23 L1035.2,403.76Z" fill="#6600FF" stroke="#3a1500" stroke-opacity="0.8" stroke-width="1"/>
<path d="M1036.4,403.35 L1037.07,403.69 L1037.76,403.96 L1038.48,404.17 L1039.22,404.3 L1039.96,404.37 L1040.7,404.37 L1041.44,404.3 L1042.16,404.18 L1042.87,403.99 L1043.56,403.75 L1044.23,403.46 L1044.87,403.12 L1045.49,402.74 L1046.07,402.3 L1046.62,401.82 L1047.14,401.3 L1047.61,400.74 L1048.03,400.13 L1048.41,399.49 L1048.72,398.82 L1048.97,398.12 L1049.15,397.39 L1049.26,396.65 L1049.3,395.9 L1049.26,395.15 L1049.15,394.41 L1048.97,393.68 L1048.72,392.98 L1048.41,392.31 L1048.03,391.67 L1047.61,391.06 L1047.14,390.5 L1046.62,389.98 L1046.07,389.5 L1045.49,389.06 L1044.87,388.68 L1044.23,388.34 L1043.56,388.05 L1042.87,387.81 L1042.16,387.62 L1041.44,387.5 L1040.7,387.43 L1039.96,387.43 L1039.22,387.5 L1038.48,387.63 L1037.76,387.84 L1037.07,388.11 L1036.4,388.45 L1035.77,388.86 L1035.18,389.33 L1034.65,389.85 L1034.16,390.41 L1033.74,391.02 L1033.37,391.67 L1033.05,392.33 L1032.8,393.03 L1032.61,393.73 L1032.47,394.45 L1032.39,395.17 L1032.36,395.9 L1032.39,396.63 L1032.47,397.35 L1032.61,398.07 L1032.8,398.77 L1033.05,399.47 L1033.37,400.13 L1033.74,400.78 L1034.16,401.39 L1034.65,401.95 L1035.18,402.47 L1035.77,402.94Z" fill="#FF00E6" stroke="#3a1500" stroke-opacity="0.8" stroke-width="1"/>
<path d="M1036.85,402.57 L1037.45,402.88 L1038.07,403.13 L1038.71,403.32 L1039.37,403.44 L1040.03,403.51 L1040.7,403.52 L1041.36,403.47 L1042.02,403.37 L1042.66,403.21 L1043.28,403 L1043.89,402.74 L1044.47,402.44 L1045.03,402.08 L1045.56,401.69 L1046.05,401.25 L1046.51,400.77 L1046.93,400.26 L1047.3,399.71 L1047.63,399.13 L1047.9,398.52 L1048.12,397.89 L1048.27,397.24 L1048.37,396.57 L1048.4,395.9 L1048.37,395.23 L1048.27,394.56 L1048.12,393.91 L1047.9,393.28 L1047.63,392.67 L1047.3,392.09 L1046.93,391.54 L1046.51,391.03 L1046.05,390.55 L1045.56,390.11 L1045.03,389.72 L1044.47,389.36 L1043.89,389.06 L1043.28,388.8 L1042.66,388.59 L1042.02,388.43 L1041.36,388.33 L1040.7,388.28 L1040.03,388.29 L1039.37,388.36 L1038.71,388.48 L1038.07,388.67 L1037.45,388.92 L1036.85,389.23 L1036.28,389.59 L1035.76,390.01 L1035.27,390.47 L1034.83,390.98 L1034.44,391.52 L1034.1,392.09 L1033.81,392.69 L1033.57,393.31 L1033.39,393.94 L1033.26,394.59 L1033.18,395.24 L1033.15,395.9 L1033.18,396.56 L1033.26,397.21 L1033.39,397.86 L1033.57,398.49 L1033.81,399.11 L1034.1,399.71 L1034.44,400.28 L1034.83,400.82 L1035.27,401.33 L1035.76,401.79 L1036.28,402.21Z" fill="#FF0000" stroke="#3a1500" stroke-opacity="0.8" stroke-width="1"/>
</g>
<polygon points="145.7,669.9 253.9,481.1 471.8,481.1 579,669.9 471.8,858.6 253.9,858.6" fill="#DB2022"/>
<path d="M362.3,669.9 L356.59,666.75 L351.02,664 L345.59,661.6 L340.31,659.49 L335.17,657.65 L330.17,656.05 L325.32,654.66 L320.6,653.45 L316.01,652.42 L311.56,651.54 L307.25,650.81 L303.07,650.21 L299.02,649.73 L295.1,649.37 L291.31,649.11 L287.64,648.95 L284.1,648.88 L280.69,648.89 L277.4,648.99 L274.23,649.15 L271.18,649.38 L268.24,649.68 L265.43,650.03 L262.72,650.43 L260.14,650.87 L257.66,651.35 L255.29,651.87 L253.04,652.42 L250.88,653 L248.84,653.6 L246.89,654.22 L245.05,654.85 L243.31,655.49 L241.67,656.14 L240.12,656.8 L238.66,657.46 L237.3,658.12 L236.02,658.78 L234.84,659.43 L233.74,660.08 L232.72,660.73 L231.79,661.37 L230.93,661.99 L230.15,662.61 L229.45,663.22 L228.81,663.82 L228.25,664.4 L227.75,664.97 L227.32,665.53 L226.94,666.07 L226.62,666.6 L226.36,667.11 L226.15,667.6 L225.99,668.07 L225.86,668.51 L225.78,668.93 L225.73,669.32 L225.71,669.65 L225.7,669.9 L225.71,670.15 L225.73,670.48 L225.78,670.87 L225.86,671.29 L225.99,671.73 L226.15,672.2 L226.36,672.69 L226.62,673.2 L226.94,673.73 L227.32,674.27 L227.75,674.83 L228.25,675.4 L228.81,675.98 L229.45,676.58 L230.15,677.19 L230.93,677.81 L231.79,678.43 L232.72,679.07 L233.74,679.72 L234.84,680.37 L236.02,681.02 L237.3,681.68 L238.66,682.34 L240.12,683 L241.67,683.66 L243.31,684.31 L245.05,684.95 L246.89,685.58 L248.84,686.2 L250.88,686.8 L253.04,687.38 L255.29,687.93 L257.66,688.45 L260.14,688.93 L262.72,689.37 L265.43,689.77 L268.24,690.12 L271.18,690.42 L274.23,690.65 L277.4,690.81 L280.69,690.91 L284.1,690.92 L287.64,690.85 L291.31,690.69 L295.1,690.43 L299.02,690.07 L303.07,689.59 L307.25,688.99 L311.56,688.26 L316.01,687.38 L320.6,686.35 L325.32,685.14 L330.17,683.75 L335.17,682.15 L340.31,680.31 L345.59,678.2 L351.02,675.8 L356.59,673.05 L362.3,669.9Z M362.3,669.9 L367.88,666.52 L373.05,663.08 L377.85,659.58 L382.31,656.06 L386.47,652.53 L390.36,649 L393.99,645.49 L397.4,642.01 L400.58,638.55 L403.57,635.14 L406.36,631.77 L408.97,628.45 L411.41,625.18 L413.68,621.97 L415.8,618.81 L417.77,615.72 L419.6,612.69 L421.3,609.73 L422.86,606.83 L424.31,604 L425.63,601.24 L426.84,598.56 L427.95,595.94 L428.95,593.4 L429.86,590.94 L430.68,588.55 L431.41,586.24 L432.07,584.01 L432.64,581.86 L433.15,579.79 L433.59,577.8 L433.96,575.89 L434.27,574.06 L434.53,572.31 L434.74,570.64 L434.89,569.05 L435,567.54 L435.07,566.1 L435.09,564.75 L435.08,563.47 L435.03,562.27 L434.95,561.14 L434.83,560.08 L434.69,559.1 L434.51,558.19 L434.31,557.34 L434.09,556.56 L433.84,555.84 L433.58,555.19 L433.3,554.59 L433,554.05 L432.69,553.57 L432.37,553.14 L432.04,552.76 L431.72,552.44 L431.4,552.15 L431.09,551.92 L430.81,551.73 L430.6,551.6 L430.39,551.48 L430.08,551.33 L429.72,551.19 L429.32,551.05 L428.87,550.93 L428.38,550.84 L427.85,550.78 L427.28,550.75 L426.66,550.76 L426.01,550.81 L425.31,550.91 L424.56,551.06 L423.77,551.25 L422.94,551.51 L422.06,551.81 L421.14,552.18 L420.17,552.61 L419.15,553.1 L418.08,553.66 L416.97,554.28 L415.81,554.98 L414.6,555.75 L413.34,556.6 L412.05,557.53 L410.7,558.55 L409.32,559.65 L407.89,560.83 L406.42,562.11 L404.91,563.49 L403.37,564.96 L401.8,566.54 L400.19,568.22 L398.56,570.01 L396.9,571.91 L395.22,573.93 L393.53,576.07 L391.82,578.33 L390.1,580.73 L388.37,583.25 L386.64,585.92 L384.91,588.72 L383.19,591.67 L381.48,594.77 L379.79,598.02 L378.12,601.44 L376.47,605.01 L374.86,608.76 L373.29,612.68 L371.77,616.78 L370.31,621.07 L368.91,625.56 L367.59,630.25 L366.37,635.15 L365.26,640.28 L364.28,645.65 L363.46,651.28 L362.83,657.18 L362.43,663.38 L362.3,669.9Z M362.3,669.9 L362.43,676.42 L362.83,682.62 L363.46,688.52 L364.28,694.15 L365.26,699.52 L366.37,704.65 L367.59,709.55 L368.91,714.24 L370.31,718.73 L371.77,723.02 L373.29,727.12 L374.86,731.04 L376.47,734.79 L378.12,738.36 L379.79,741.78 L381.48,745.03 L383.19,748.13 L384.91,751.08 L386.64,753.88 L388.37,756.55 L390.1,759.07 L391.82,761.47 L393.53,763.73 L395.22,765.87 L396.9,767.89 L398.56,769.79 L400.19,771.58 L401.8,773.26 L403.37,774.84 L404.91,776.31 L406.42,777.69 L407.89,778.97 L409.32,780.15 L410.7,781.25 L412.05,782.27 L413.34,783.2 L414.6,784.05 L415.81,784.82 L416.97,785.52 L418.08,786.14 L419.15,786.7 L420.17,787.19 L421.14,787.62 L422.06,787.99 L422.94,788.29 L423.77,788.55 L424.56,788.74 L425.31,788.89 L426.01,788.99 L426.66,789.04 L427.28,789.05 L427.85,789.02 L428.38,788.96 L428.87,788.87 L429.32,788.75 L429.72,788.61 L430.08,788.47 L430.39,788.32 L430.6,788.2 L430.81,788.07 L431.09,787.88 L431.4,787.65 L431.72,787.36 L432.04,787.04 L432.37,786.66 L432.69,786.23 L433,785.75 L433.3,785.21 L433.58,784.61 L433.84,783.96 L434.09,783.24 L434.31,782.46 L434.51,781.61 L434.69,780.7 L434.83,779.72 L434.95,778.66 L435.03,777.53 L435.08,776.33 L435.09,775.05 L435.07,773.7 L435,772.26 L434.89,770.75 L434.74,769.16 L434.53,767.49 L434.27,765.74 L433.96,763.91 L433.59,762 L433.15,760.01 L432.64,757.94 L432.07,755.79 L431.41,753.56 L430.68,751.25 L429.86,748.86 L428.95,746.4 L427.95,743.86 L426.84,741.24 L425.63,738.56 L424.31,735.8 L422.86,732.97 L421.3,730.07 L419.6,727.11 L417.77,724.08 L415.8,720.99 L413.68,717.83 L411.41,714.62 L408.97,711.35 L406.36,708.03 L403.57,704.66 L400.58,701.25 L397.4,697.79 L393.99,694.31 L390.36,690.8 L386.47,687.27 L382.31,683.74 L377.85,680.22 L373.05,676.72 L367.88,673.28 L362.3,669.9Z" fill="#E2582C" stroke="#3a1500" stroke-opacity="0.8" stroke-width="1"/>
<g clip-path="url(#clipC)">
<path d="M138.7,669.9 L138.74,670.51 L138.85,671.11 L139.02,671.69 L139.26,672.24 L139.55,672.77 L139.89,673.25 L140.26,673.71 L140.67,674.12 L141.09,674.51 L141.54,674.86 L142,675.18 L142.48,675.48 L142.97,675.74 L143.49,675.98 L144.01,676.19 L144.56,676.37 L145.12,676.51 L145.7,676.61 L146.29,676.66 L146.89,676.65 L147.49,676.58 L148.08,676.44 L148.65,676.23 L149.2,675.96 L149.71,675.63 L150.17,675.23 L150.59,674.79 L150.95,674.3 L151.26,673.79 L151.51,673.25 L151.71,672.7 L151.88,672.15 L151.99,671.59 L152.08,671.02 L152.12,670.46 L152.14,669.9 L152.12,669.34 L152.08,668.78 L151.99,668.21 L151.88,667.65 L151.71,667.1 L151.51,666.55 L151.26,666.01 L150.95,665.5 L150.59,665.01 L150.17,664.57 L149.71,664.17 L149.2,663.84 L148.65,663.57 L148.08,663.36 L147.49,663.22 L146.89,663.15 L146.29,663.14 L145.7,663.19 L145.12,663.29 L144.56,663.43 L144.01,663.61 L143.49,663.82 L142.97,664.06 L142.48,664.32 L142,664.62 L141.54,664.94 L141.09,665.29 L140.67,665.68 L140.26,666.09 L139.89,666.55 L139.55,667.03 L139.26,667.56 L139.02,668.11 L138.85,668.69 L138.74,669.29Z" fill="#E2582C" stroke="#3a1500" stroke-opacity="0.8" stroke-width="1"/>
<path d="M239.65,456.42 L237.58,457.79 L235.69,459.39 L234,461.2 L232.53,463.17 L231.28,465.26 L230.25,467.44 L229.41,469.68 L228.76,471.95 L228.27,474.23 L227.94,476.52 L227.74,478.81 L227.68,481.1 L227.74,483.39 L227.94,485.68 L228.27,487.97 L228.76,490.25 L229.41,492.52 L230.25,494.76 L231.28,496.94 L232.53,499.03 L234,501 L235.69,502.81 L237.58,504.41 L239.65,505.78 L241.87,506.89 L244.21,507.73 L246.62,508.28 L249.06,508.57 L251.49,508.61 L253.9,508.41 L256.26,508.02 L258.55,507.45 L260.77,506.73 L262.92,505.87 L265,504.9 L267.01,503.81 L268.96,502.61 L270.84,501.29 L272.66,499.86 L274.4,498.3 L276.03,496.6 L277.55,494.76 L278.92,492.77 L280.11,490.64 L281.08,488.38 L281.8,486.02 L282.25,483.58 L282.4,481.1 L282.25,478.62 L281.8,476.18 L281.08,473.82 L280.11,471.56 L278.92,469.43 L277.55,467.44 L276.03,465.6 L274.4,463.9 L272.66,462.34 L270.84,460.91 L268.96,459.59 L267.01,458.39 L265,457.3 L262.92,456.33 L260.77,455.47 L258.55,454.75 L256.26,454.18 L253.9,453.79 L251.49,453.59 L249.06,453.63 L246.62,453.92 L244.21,454.47 L241.87,455.31Z" fill="#E2582C" stroke="#3a1500" stroke-opacity="0.8" stroke-width="1"/>
<path d="M475.3,475.04 L474.75,474.77 L474.18,474.56 L473.59,474.42 L472.99,474.35 L472.39,474.34 L471.8,474.39 L471.22,474.49 L470.66,474.63 L470.11,474.81 L469.59,475.02 L469.07,475.26 L468.58,475.52 L468.1,475.82 L467.64,476.14 L467.19,476.49 L466.77,476.88 L466.36,477.29 L465.99,477.75 L465.65,478.23 L465.36,478.76 L465.12,479.31 L464.95,479.89 L464.84,480.49 L464.8,481.1 L464.84,481.71 L464.95,482.31 L465.12,482.89 L465.36,483.44 L465.65,483.97 L465.99,484.45 L466.36,484.91 L466.77,485.32 L467.19,485.71 L467.64,486.06 L468.1,486.38 L468.58,486.68 L469.07,486.94 L469.59,487.18 L470.11,487.39 L470.66,487.57 L471.22,487.71 L471.8,487.81 L472.39,487.86 L472.99,487.85 L473.59,487.78 L474.18,487.64 L474.75,487.43 L475.3,487.16 L475.81,486.83 L476.27,486.43 L476.69,485.99 L477.05,485.5 L477.36,484.99 L477.61,484.45 L477.81,483.9 L477.98,483.35 L478.09,482.79 L478.18,482.22 L478.22,481.66 L478.24,481.1 L478.22,480.54 L478.18,479.98 L478.09,479.41 L477.98,478.85 L477.81,478.3 L477.61,477.75 L477.36,477.21 L477.05,476.7 L476.69,476.21 L476.27,475.77 L475.81,475.37Z" fill="#E2582C" stroke="#3a1500" stroke-opacity="0.8" stroke-width="1"/>
<path d="M607.5,669.9 L607.35,667.42 L606.9,664.98 L606.18,662.62 L605.21,660.36 L604.02,658.23 L602.65,656.24 L601.13,654.4 L599.5,652.7 L597.76,651.14 L595.94,649.71 L594.06,648.39 L592.11,647.19 L590.1,646.1 L588.02,645.13 L585.87,644.27 L583.65,643.55 L581.36,642.98 L579,642.59 L576.59,642.39 L574.16,642.43 L571.72,642.72 L569.31,643.27 L566.97,644.11 L564.75,645.22 L562.68,646.59 L560.79,648.19 L559.1,650 L557.63,651.97 L556.38,654.06 L555.35,656.24 L554.51,658.48 L553.86,660.75 L553.37,663.03 L553.04,665.32 L552.84,667.61 L552.78,669.9 L552.84,672.19 L553.04,674.48 L553.37,676.77 L553.86,679.05 L554.51,681.32 L555.35,683.56 L556.38,685.74 L557.63,687.83 L559.1,689.8 L560.79,691.61 L562.68,693.21 L564.75,694.58 L566.97,695.69 L569.31,696.53 L571.72,697.08 L574.16,697.37 L576.59,697.41 L579,697.21 L581.36,696.82 L583.65,696.25 L585.87,695.53 L588.02,694.67 L590.1,693.7 L592.11,692.61 L594.06,691.41 L595.94,690.09 L597.76,688.66 L599.5,687.1 L601.13,685.4 L602.65,683.56 L604.02,681.57 L605.21,679.44 L606.18,677.18 L606.9,674.82 L607.35,672.38Z" fill="#E2582C" stroke="#3a1500" stroke-opacity="0.8" stroke-width="1"/>
<path d="M475.3,864.66 L475.81,864.33 L476.27,863.93 L476.69,863.49 L477.05,863 L477.36,862.49 L477.61,861.95 L477.81,861.4 L477.98,860.85 L478.09,860.29 L478.18,859.72 L478.22,859.16 L478.24,858.6 L478.22,858.04 L478.18,857.48 L478.09,856.91 L477.98,856.35 L477.81,855.8 L477.61,855.25 L477.36,854.71 L477.05,854.2 L476.69,853.71 L476.27,853.27 L475.81,852.87 L475.3,852.54 L474.75,852.27 L474.18,852.06 L473.59,851.92 L472.99,851.85 L472.39,851.84 L471.8,851.89 L471.22,851.99 L470.66,852.13 L470.11,852.31 L469.59,852.52 L469.07,852.76 L468.58,853.02 L468.1,853.32 L467.64,853.64 L467.19,853.99 L466.77,854.38 L466.36,854.79 L465.99,855.25 L465.65,855.73 L465.36,856.26 L465.12,856.81 L464.95,857.39 L464.84,857.99 L464.8,858.6 L464.84,859.21 L464.95,859.81 L465.12,860.39 L465.36,860.94 L465.65,861.47 L465.99,861.95 L466.36,862.41 L466.77,862.82 L467.19,863.21 L467.64,863.56 L468.1,863.88 L468.58,864.18 L469.07,864.44 L469.59,864.68 L470.11,864.89 L470.66,865.07 L471.22,865.21 L471.8,865.31 L472.39,865.36 L472.99,865.35 L473.59,865.28 L474.18,865.14 L474.75,864.93Z" fill="#E2582C" stroke="#3a1500" stroke-opacity="0.8" stroke-width="1"/>
<path d="M239.65,883.28 L241.87,884.39 L244.21,885.23 L246.62,885.78 L249.06,886.07 L251.49,886.11 L253.9,885.91 L256.26,885.52 L258.55,884.95 L260.77,884.23 L262.92,883.37 L265,882.4 L267.01,881.31 L268.96,880.11 L270.84,878.79 L272.66,877.36 L274.4,875.8 L276.03,874.1 L277.55,872.26 L278.92,870.27 L280.11,868.14 L281.08,865.88 L281.8,863.52 L282.25,861.08 L282.4,858.6 L282.25,856.12 L281.8,853.68 L281.08,851.32 L280.11,849.06 L278.92,846.93 L277.55,844.94 L276.03,843.1 L274.4,841.4 L272.66,839.84 L270.84,838.41 L268.96,837.09 L267.01,835.89 L265,834.8 L262.92,833.83 L260.77,832.97 L258.55,832.25 L256.26,831.68 L253.9,831.29 L251.49,831.09 L249.06,831.13 L246.62,831.42 L244.21,831.97 L241.87,832.81 L239.65,833.92 L237.58,835.29 L235.69,836.89 L234,838.7 L232.53,840.67 L231.28,842.76 L230.25,844.94 L229.41,847.18 L228.76,849.45 L228.27,851.73 L227.94,854.02 L227.74,856.31 L227.68,858.6 L227.74,860.89 L227.94,863.18 L228.27,865.47 L228.76,867.75 L229.41,870.02 L230.25,872.26 L231.28,874.44 L232.53,876.53 L234,878.5 L235.69,880.31 L237.58,881.91Z" fill="#E2582C" stroke="#3a1500" stroke-opacity="0.8" stroke-width="1"/>
</g>
<circle cx="253.9" cy="481.1" r="1.1" fill="#111"/>
<circle cx="253.9" cy="858.6" r="1.1" fill="#111"/>
<circle cx="579" cy="669.9" r="1.1" fill="#111"/>
<polygon points="928.8,670.5 1036.4,482 1252.4,482 1360.6,670.5 1252.4,858.6 1036.4,858.6" fill="#DB2022"/>
<path d="M1144.2,670 L1138.27,666.49 L1132.5,663.41 L1126.87,660.67 L1121.39,658.22 L1116.06,656.01 L1110.88,654 L1105.84,652.16 L1100.94,650.48 L1096.18,648.94 L1091.57,647.53 L1087.09,646.24 L1082.76,645.06 L1078.56,644 L1074.49,643.05 L1070.56,642.21 L1066.76,641.49 L1063.08,640.87 L1059.54,640.36 L1056.13,639.97 L1052.84,639.68 L1049.67,639.49 L1046.63,639.42 L1043.71,639.44 L1040.91,639.56 L1038.22,639.78 L1035.65,640.08 L1033.2,640.48 L1030.86,640.95 L1028.62,641.5 L1026.5,642.13 L1024.49,642.82 L1022.57,643.58 L1020.77,644.39 L1019.06,645.25 L1017.45,646.16 L1015.94,647.11 L1014.53,648.1 L1013.21,649.12 L1011.98,650.17 L1010.84,651.24 L1009.78,652.33 L1008.81,653.43 L1007.93,654.54 L1007.12,655.65 L1006.39,656.77 L1005.73,657.89 L1005.14,659 L1004.63,660.09 L1004.18,661.18 L1003.79,662.25 L1003.46,663.3 L1003.19,664.32 L1002.97,665.31 L1002.8,666.26 L1002.67,667.17 L1002.58,668.02 L1002.53,668.81 L1002.51,669.5 L1002.5,670 L1002.51,670.5 L1002.53,671.19 L1002.58,671.98 L1002.67,672.83 L1002.8,673.74 L1002.97,674.69 L1003.19,675.68 L1003.46,676.7 L1003.79,677.75 L1004.18,678.82 L1004.63,679.91 L1005.14,681 L1005.73,682.11 L1006.39,683.23 L1007.12,684.35 L1007.93,685.46 L1008.81,686.57 L1009.78,687.67 L1010.84,688.76 L1011.98,689.83 L1013.21,690.88 L1014.53,691.9 L1015.94,692.89 L1017.45,693.84 L1019.06,694.75 L1020.77,695.61 L1022.57,696.42 L1024.49,697.18 L1026.5,697.87 L1028.62,698.5 L1030.86,699.05 L1033.2,699.52 L1035.65,699.92 L1038.22,700.22 L1040.91,700.44 L1043.71,700.56 L1046.63,700.58 L1049.67,700.51 L1052.84,700.32 L1056.13,700.03 L1059.54,699.64 L1063.08,699.13 L1066.76,698.51 L1070.56,697.79 L1074.49,696.95 L1078.56,696 L1082.76,694.94 L1087.09,693.76 L1091.57,692.47 L1096.18,691.06 L1100.94,689.52 L1105.84,687.84 L1110.88,686 L1116.06,683.99 L1121.39,681.78 L1126.87,679.33 L1132.5,676.59 L1138.27,673.51 L1144.2,670Z M1144.2,670 L1150.2,666.62 L1155.76,663.16 L1160.94,659.65 L1165.81,656.14 L1170.39,652.63 L1174.72,649.14 L1178.83,645.69 L1182.73,642.29 L1186.44,638.95 L1189.98,635.66 L1193.33,632.43 L1196.52,629.26 L1199.54,626.15 L1202.39,623.1 L1205.08,620.12 L1207.61,617.19 L1209.98,614.32 L1212.19,611.5 L1214.25,608.74 L1216.14,606.04 L1217.88,603.39 L1219.47,600.79 L1220.91,598.25 L1222.21,595.77 L1223.36,593.33 L1224.38,590.95 L1225.27,588.63 L1226.03,586.37 L1226.67,584.16 L1227.19,582.01 L1227.59,579.91 L1227.9,577.88 L1228.1,575.91 L1228.2,574 L1228.22,572.15 L1228.15,570.37 L1228,568.65 L1227.78,567 L1227.48,565.41 L1227.13,563.89 L1226.71,562.43 L1226.25,561.04 L1225.73,559.72 L1225.17,558.46 L1224.56,557.26 L1223.93,556.14 L1223.26,555.08 L1222.56,554.08 L1221.85,553.15 L1221.12,552.28 L1220.38,551.47 L1219.63,550.72 L1218.88,550.04 L1218.14,549.41 L1217.42,548.85 L1216.72,548.35 L1216.07,547.91 L1215.48,547.54 L1215.05,547.28 L1214.61,547.04 L1214,546.71 L1213.29,546.37 L1212.51,546.01 L1211.66,545.67 L1210.75,545.34 L1209.78,545.04 L1208.76,544.76 L1207.69,544.52 L1206.57,544.33 L1205.41,544.17 L1204.2,544.07 L1202.94,544.02 L1201.65,544.04 L1200.32,544.11 L1198.95,544.25 L1197.54,544.47 L1196.1,544.76 L1194.63,545.13 L1193.14,545.58 L1191.61,546.12 L1190.07,546.75 L1188.51,547.49 L1186.93,548.32 L1185.34,549.25 L1183.74,550.3 L1182.13,551.46 L1180.52,552.74 L1178.91,554.13 L1177.31,555.66 L1175.72,557.32 L1174.13,559.11 L1172.56,561.04 L1171.01,563.11 L1169.48,565.33 L1167.98,567.69 L1166.5,570.21 L1165.04,572.89 L1163.62,575.72 L1162.23,578.71 L1160.86,581.87 L1159.53,585.19 L1158.23,588.67 L1156.96,592.33 L1155.72,596.16 L1154.51,600.15 L1153.32,604.32 L1152.17,608.66 L1151.05,613.19 L1149.97,617.89 L1148.93,622.78 L1147.94,627.86 L1147.01,633.14 L1146.15,638.63 L1145.4,644.36 L1144.79,650.33 L1144.34,656.57 L1144.13,663.11 L1144.2,670Z M1144.2,670 L1144.13,676.89 L1144.34,683.43 L1144.79,689.67 L1145.4,695.64 L1146.15,701.37 L1147.01,706.86 L1147.94,712.14 L1148.93,717.22 L1149.97,722.11 L1151.05,726.81 L1152.17,731.34 L1153.32,735.68 L1154.51,739.85 L1155.72,743.84 L1156.96,747.67 L1158.23,751.33 L1159.53,754.81 L1160.86,758.13 L1162.23,761.29 L1163.62,764.28 L1165.04,767.11 L1166.5,769.79 L1167.98,772.31 L1169.48,774.67 L1171.01,776.89 L1172.56,778.96 L1174.13,780.89 L1175.72,782.68 L1177.31,784.34 L1178.91,785.87 L1180.52,787.26 L1182.13,788.54 L1183.74,789.7 L1185.34,790.75 L1186.93,791.68 L1188.51,792.51 L1190.07,793.25 L1191.61,793.88 L1193.14,794.42 L1194.63,794.87 L1196.1,795.24 L1197.54,795.53 L1198.95,795.75 L1200.32,795.89 L1201.65,795.96 L1202.94,795.98 L1204.2,795.93 L1205.41,795.83 L1206.57,795.67 L1207.69,795.48 L1208.76,795.24 L1209.78,794.96 L1210.75,794.66 L1211.66,794.33 L1212.51,793.99 L1213.29,793.63 L1214,793.29 L1214.61,792.96 L1215.05,792.72 L1215.48,792.46 L1216.07,792.09 L1216.72,791.65 L1217.42,791.15 L1218.14,790.59 L1218.88,789.96 L1219.63,789.28 L1220.38,788.53 L1221.12,787.72 L1221.85,786.85 L1222.56,785.92 L1223.26,784.92 L1223.93,783.86 L1224.56,782.74 L1225.17,781.54 L1225.73,780.28 L1226.25,778.96 L1226.71,777.57 L1227.13,776.11 L1227.48,774.59 L1227.78,773 L1228,771.35 L1228.15,769.63 L1228.22,767.85 L1228.2,766 L1228.1,764.09 L1227.9,762.12 L1227.59,760.09 L1227.19,757.99 L1226.67,755.84 L1226.03,753.63 L1225.27,751.37 L1224.38,749.05 L1223.36,746.67 L1222.21,744.23 L1220.91,741.75 L1219.47,739.21 L1217.88,736.61 L1216.14,733.96 L1214.25,731.26 L1212.19,728.5 L1209.98,725.68 L1207.61,722.81 L1205.08,719.88 L1202.39,716.9 L1199.54,713.85 L1196.52,710.74 L1193.33,707.57 L1189.98,704.34 L1186.44,701.05 L1182.73,697.71 L1178.83,694.31 L1174.72,690.86 L1170.39,687.37 L1165.81,683.86 L1160.94,680.35 L1155.76,676.84 L1150.2,673.38 L1144.2,670Z" fill="#E2582C" stroke="#3a1500" stroke-opacity="0.8" stroke-width="1"/>
<g clip-path="url(#clipD)">
<path d="M1028.7,468.66 L1027.58,469.4 L1026.55,470.26 L1025.63,471.23 L1024.82,472.28 L1024.13,473.41 L1023.55,474.58 L1023.07,475.79 L1022.7,477.01 L1022.42,478.25 L1022.23,479.5 L1022.12,480.75 L1022.08,482 L1022.12,483.25 L1022.23,484.5 L1022.42,485.75 L1022.7,486.99 L1023.07,488.21 L1023.55,489.42 L1024.13,490.59 L1024.82,491.72 L1025.63,492.77 L1026.55,493.74 L1027.58,494.6 L1028.7,495.34 L1029.9,495.94 L1031.16,496.4 L1032.46,496.71 L1033.78,496.89 L1035.09,496.93 L1036.4,496.84 L1037.68,496.65 L1038.93,496.36 L1040.15,495.98 L1041.32,495.52 L1042.46,495 L1043.56,494.4 L1044.62,493.75 L1045.65,493.02 L1046.63,492.23 L1047.57,491.37 L1048.44,490.43 L1049.25,489.42 L1049.98,488.33 L1050.6,487.17 L1051.11,485.94 L1051.49,484.66 L1051.72,483.34 L1051.8,482 L1051.72,480.66 L1051.49,479.34 L1051.11,478.06 L1050.6,476.83 L1049.98,475.67 L1049.25,474.58 L1048.44,473.57 L1047.57,472.63 L1046.63,471.77 L1045.65,470.98 L1044.62,470.25 L1043.56,469.6 L1042.46,469 L1041.32,468.48 L1040.15,468.02 L1038.93,467.64 L1037.68,467.35 L1036.4,467.16 L1035.09,467.07 L1033.78,467.11 L1032.46,467.29 L1031.16,467.6 L1029.9,468.06Z" fill="#E2582C" stroke="#3a1500" stroke-opacity="0.8" stroke-width="1"/>
<path d="M1033.4,476.8 L1032.96,477.09 L1032.56,477.42 L1032.19,477.79 L1031.86,478.19 L1031.58,478.62 L1031.34,479.08 L1031.14,479.55 L1030.98,480.03 L1030.85,480.51 L1030.77,481.01 L1030.72,481.5 L1030.7,482 L1030.72,482.5 L1030.77,482.99 L1030.85,483.49 L1030.98,483.97 L1031.14,484.45 L1031.34,484.92 L1031.58,485.38 L1031.86,485.81 L1032.19,486.21 L1032.56,486.58 L1032.96,486.91 L1033.4,487.2 L1033.87,487.43 L1034.36,487.62 L1034.86,487.75 L1035.37,487.83 L1035.89,487.86 L1036.4,487.85 L1036.91,487.79 L1037.4,487.68 L1037.89,487.55 L1038.36,487.37 L1038.81,487.17 L1039.25,486.94 L1039.67,486.67 L1040.08,486.38 L1040.46,486.06 L1040.82,485.71 L1041.16,485.33 L1041.46,484.92 L1041.73,484.49 L1041.96,484.03 L1042.15,483.54 L1042.29,483.04 L1042.37,482.52 L1042.4,482 L1042.37,481.48 L1042.29,480.96 L1042.15,480.46 L1041.96,479.97 L1041.73,479.51 L1041.46,479.08 L1041.16,478.67 L1040.82,478.29 L1040.46,477.94 L1040.08,477.62 L1039.67,477.33 L1039.25,477.06 L1038.81,476.83 L1038.36,476.63 L1037.89,476.45 L1037.4,476.32 L1036.91,476.21 L1036.4,476.15 L1035.89,476.14 L1035.37,476.17 L1034.86,476.25 L1034.36,476.38 L1033.87,476.57Z" fill="#E3A03A" stroke="#3a1500" stroke-opacity="0.8" stroke-width="1"/>
<path d="M1034.4,478.54 L1034.11,478.73 L1033.84,478.95 L1033.59,479.19 L1033.38,479.46 L1033.19,479.75 L1033.02,480.05 L1032.89,480.36 L1032.78,480.68 L1032.7,481.01 L1032.65,481.34 L1032.61,481.67 L1032.6,482 L1032.61,482.33 L1032.65,482.66 L1032.7,482.99 L1032.78,483.32 L1032.89,483.64 L1033.02,483.95 L1033.19,484.25 L1033.38,484.54 L1033.59,484.81 L1033.84,485.05 L1034.11,485.27 L1034.4,485.46 L1034.71,485.62 L1035.04,485.75 L1035.37,485.83 L1035.71,485.89 L1036.06,485.91 L1036.4,485.9 L1036.74,485.86 L1037.07,485.79 L1037.39,485.7 L1037.7,485.58 L1038.01,485.45 L1038.3,485.29 L1038.58,485.12 L1038.85,484.92 L1039.11,484.71 L1039.35,484.47 L1039.57,484.22 L1039.78,483.95 L1039.96,483.66 L1040.11,483.35 L1040.23,483.03 L1040.33,482.69 L1040.38,482.35 L1040.4,482 L1040.38,481.65 L1040.33,481.31 L1040.23,480.97 L1040.11,480.65 L1039.96,480.34 L1039.78,480.05 L1039.57,479.78 L1039.35,479.53 L1039.11,479.29 L1038.85,479.08 L1038.58,478.88 L1038.3,478.71 L1038.01,478.55 L1037.7,478.42 L1037.39,478.3 L1037.07,478.21 L1036.74,478.14 L1036.4,478.1 L1036.06,478.09 L1035.71,478.11 L1035.37,478.17 L1035.04,478.25 L1034.71,478.38Z" fill="#60AAA0" stroke="#3a1500" stroke-opacity="0.8" stroke-width="1"/>
<path d="M1035.15,479.83 L1034.97,479.95 L1034.79,480.08 L1034.63,480.23 L1034.48,480.39 L1034.35,480.57 L1034.23,480.75 L1034.13,480.94 L1034.05,481.14 L1033.99,481.35 L1033.94,481.57 L1033.91,481.78 L1033.9,482 L1033.91,482.22 L1033.94,482.43 L1033.99,482.65 L1034.05,482.86 L1034.13,483.06 L1034.23,483.25 L1034.35,483.43 L1034.48,483.61 L1034.63,483.77 L1034.79,483.92 L1034.97,484.05 L1035.15,484.17 L1035.34,484.27 L1035.54,484.35 L1035.75,484.41 L1035.97,484.46 L1036.18,484.49 L1036.4,484.5 L1036.62,484.49 L1036.83,484.46 L1037.05,484.41 L1037.26,484.35 L1037.46,484.27 L1037.65,484.17 L1037.83,484.05 L1038.01,483.92 L1038.17,483.77 L1038.32,483.61 L1038.45,483.43 L1038.57,483.25 L1038.67,483.06 L1038.75,482.86 L1038.81,482.65 L1038.86,482.43 L1038.89,482.22 L1038.9,482 L1038.89,481.78 L1038.86,481.57 L1038.81,481.35 L1038.75,481.14 L1038.67,480.94 L1038.57,480.75 L1038.45,480.57 L1038.32,480.39 L1038.17,480.23 L1038.01,480.08 L1037.83,479.95 L1037.65,479.83 L1037.46,479.73 L1037.26,479.65 L1037.05,479.59 L1036.83,479.54 L1036.62,479.51 L1036.4,479.5 L1036.18,479.51 L1035.97,479.54 L1035.75,479.59 L1035.54,479.65 L1035.34,479.73Z" fill="#22307a"/>
<path d="M1376,670.5 L1375.92,669.16 L1375.69,667.84 L1375.31,666.56 L1374.8,665.33 L1374.18,664.17 L1373.45,663.08 L1372.64,662.07 L1371.77,661.13 L1370.83,660.27 L1369.85,659.48 L1368.82,658.75 L1367.76,658.1 L1366.66,657.5 L1365.52,656.98 L1364.35,656.52 L1363.13,656.14 L1361.88,655.85 L1360.6,655.66 L1359.29,655.57 L1357.98,655.61 L1356.66,655.79 L1355.36,656.1 L1354.1,656.56 L1352.9,657.16 L1351.78,657.9 L1350.75,658.76 L1349.83,659.73 L1349.02,660.78 L1348.33,661.91 L1347.75,663.08 L1347.27,664.29 L1346.9,665.51 L1346.62,666.75 L1346.43,668 L1346.32,669.25 L1346.28,670.5 L1346.32,671.75 L1346.43,673 L1346.62,674.25 L1346.9,675.49 L1347.27,676.71 L1347.75,677.92 L1348.33,679.09 L1349.02,680.22 L1349.83,681.27 L1350.75,682.24 L1351.78,683.1 L1352.9,683.84 L1354.1,684.44 L1355.36,684.9 L1356.66,685.21 L1357.98,685.39 L1359.29,685.43 L1360.6,685.34 L1361.88,685.15 L1363.13,684.86 L1364.35,684.48 L1365.52,684.02 L1366.66,683.5 L1367.76,682.9 L1368.82,682.25 L1369.85,681.52 L1370.83,680.73 L1371.77,679.87 L1372.64,678.93 L1373.45,677.92 L1374.18,676.83 L1374.8,675.67 L1375.31,674.44 L1375.69,673.16 L1375.92,671.84Z" fill="#E2582C" stroke="#3a1500" stroke-opacity="0.8" stroke-width="1"/>
<path d="M1366.6,670.5 L1366.57,669.98 L1366.49,669.46 L1366.35,668.96 L1366.16,668.47 L1365.93,668.01 L1365.66,667.58 L1365.36,667.17 L1365.02,666.79 L1364.66,666.44 L1364.28,666.12 L1363.87,665.83 L1363.45,665.56 L1363.01,665.33 L1362.56,665.13 L1362.09,664.95 L1361.6,664.82 L1361.11,664.71 L1360.6,664.65 L1360.09,664.64 L1359.57,664.67 L1359.06,664.75 L1358.56,664.88 L1358.07,665.07 L1357.6,665.3 L1357.16,665.59 L1356.76,665.92 L1356.39,666.29 L1356.06,666.69 L1355.78,667.12 L1355.54,667.58 L1355.34,668.05 L1355.18,668.53 L1355.05,669.01 L1354.97,669.51 L1354.92,670 L1354.9,670.5 L1354.92,671 L1354.97,671.49 L1355.05,671.99 L1355.18,672.47 L1355.34,672.95 L1355.54,673.42 L1355.78,673.88 L1356.06,674.31 L1356.39,674.71 L1356.76,675.08 L1357.16,675.41 L1357.6,675.7 L1358.07,675.93 L1358.56,676.12 L1359.06,676.25 L1359.57,676.33 L1360.09,676.36 L1360.6,676.35 L1361.11,676.29 L1361.6,676.18 L1362.09,676.05 L1362.56,675.87 L1363.01,675.67 L1363.45,675.44 L1363.87,675.17 L1364.28,674.88 L1364.66,674.56 L1365.02,674.21 L1365.36,673.83 L1365.66,673.42 L1365.93,672.99 L1366.16,672.53 L1366.35,672.04 L1366.49,671.54 L1366.57,671.02Z" fill="#E3A03A" stroke="#3a1500" stroke-opacity="0.8" stroke-width="1"/>
<path d="M1364.6,670.5 L1364.58,670.15 L1364.53,669.81 L1364.43,669.47 L1364.31,669.15 L1364.16,668.84 L1363.98,668.55 L1363.77,668.28 L1363.55,668.03 L1363.31,667.79 L1363.05,667.58 L1362.78,667.38 L1362.5,667.21 L1362.21,667.05 L1361.9,666.92 L1361.59,666.8 L1361.27,666.71 L1360.94,666.64 L1360.6,666.6 L1360.26,666.59 L1359.91,666.61 L1359.57,666.67 L1359.24,666.75 L1358.91,666.88 L1358.6,667.04 L1358.31,667.23 L1358.04,667.45 L1357.79,667.69 L1357.58,667.96 L1357.39,668.25 L1357.22,668.55 L1357.09,668.86 L1356.98,669.18 L1356.9,669.51 L1356.85,669.84 L1356.81,670.17 L1356.8,670.5 L1356.81,670.83 L1356.85,671.16 L1356.9,671.49 L1356.98,671.82 L1357.09,672.14 L1357.22,672.45 L1357.39,672.75 L1357.58,673.04 L1357.79,673.31 L1358.04,673.55 L1358.31,673.77 L1358.6,673.96 L1358.91,674.12 L1359.24,674.25 L1359.57,674.33 L1359.91,674.39 L1360.26,674.41 L1360.6,674.4 L1360.94,674.36 L1361.27,674.29 L1361.59,674.2 L1361.9,674.08 L1362.21,673.95 L1362.5,673.79 L1362.78,673.62 L1363.05,673.42 L1363.31,673.21 L1363.55,672.97 L1363.77,672.72 L1363.98,672.45 L1364.16,672.16 L1364.31,671.85 L1364.43,671.53 L1364.53,671.19 L1364.58,670.85Z" fill="#60AAA0" stroke="#3a1500" stroke-opacity="0.8" stroke-width="1"/>
<path d="M1363.1,670.5 L1363.09,670.28 L1363.06,670.07 L1363.01,669.85 L1362.95,669.64 L1362.87,669.44 L1362.77,669.25 L1362.65,669.07 L1362.52,668.89 L1362.37,668.73 L1362.21,668.58 L1362.03,668.45 L1361.85,668.33 L1361.66,668.23 L1361.46,668.15 L1361.25,668.09 L1361.03,668.04 L1360.82,668.01 L1360.6,668 L1360.38,668.01 L1360.17,668.04 L1359.95,668.09 L1359.74,668.15 L1359.54,668.23 L1359.35,668.33 L1359.17,668.45 L1358.99,668.58 L1358.83,668.73 L1358.68,668.89 L1358.55,669.07 L1358.43,669.25 L1358.33,669.44 L1358.25,669.64 L1358.19,669.85 L1358.14,670.07 L1358.11,670.28 L1358.1,670.5 L1358.11,670.72 L1358.14,670.93 L1358.19,671.15 L1358.25,671.36 L1358.33,671.56 L1358.43,671.75 L1358.55,671.93 L1358.68,672.11 L1358.83,672.27 L1358.99,672.42 L1359.17,672.55 L1359.35,672.67 L1359.54,672.77 L1359.74,672.85 L1359.95,672.91 L1360.17,672.96 L1360.38,672.99 L1360.6,673 L1360.82,672.99 L1361.03,672.96 L1361.25,672.91 L1361.46,672.85 L1361.66,672.77 L1361.85,672.67 L1362.03,672.55 L1362.21,672.42 L1362.37,672.27 L1362.52,672.11 L1362.65,671.93 L1362.77,671.75 L1362.87,671.56 L1362.95,671.36 L1363.01,671.15 L1363.06,670.93 L1363.09,670.72Z" fill="#22307a"/>
<path d="M1028.7,871.94 L1029.9,872.54 L1031.16,873 L1032.46,873.31 L1033.78,873.49 L1035.09,873.53 L1036.4,873.44 L1037.68,873.25 L1038.93,872.96 L1040.15,872.58 L1041.32,872.12 L1042.46,871.6 L1043.56,871 L1044.62,870.35 L1045.65,869.62 L1046.63,868.83 L1047.57,867.97 L1048.44,867.03 L1049.25,866.02 L1049.98,864.93 L1050.6,863.77 L1051.11,862.54 L1051.49,861.26 L1051.72,859.94 L1051.8,858.6 L1051.72,857.26 L1051.49,855.94 L1051.11,854.66 L1050.6,853.43 L1049.98,852.27 L1049.25,851.18 L1048.44,850.17 L1047.57,849.23 L1046.63,848.37 L1045.65,847.58 L1044.62,846.85 L1043.56,846.2 L1042.46,845.6 L1041.32,845.08 L1040.15,844.62 L1038.93,844.24 L1037.68,843.95 L1036.4,843.76 L1035.09,843.67 L1033.78,843.71 L1032.46,843.89 L1031.16,844.2 L1029.9,844.66 L1028.7,845.26 L1027.58,846 L1026.55,846.86 L1025.63,847.83 L1024.82,848.88 L1024.13,850.01 L1023.55,851.18 L1023.07,852.39 L1022.7,853.61 L1022.42,854.85 L1022.23,856.1 L1022.12,857.35 L1022.08,858.6 L1022.12,859.85 L1022.23,861.1 L1022.42,862.35 L1022.7,863.59 L1023.07,864.81 L1023.55,866.02 L1024.13,867.19 L1024.82,868.32 L1025.63,869.37 L1026.55,870.34 L1027.58,871.2Z" fill="#E2582C" stroke="#3a1500" stroke-opacity="0.8" stroke-width="1"/>
<path d="M1033.4,863.8 L1033.87,864.03 L1034.36,864.22 L1034.86,864.35 L1035.37,864.43 L1035.89,864.46 L1036.4,864.45 L1036.91,864.39 L1037.4,864.28 L1037.89,864.15 L1038.36,863.97 L1038.81,863.77 L1039.25,863.54 L1039.67,863.27 L1040.08,862.98 L1040.46,862.66 L1040.82,862.31 L1041.16,861.93 L1041.46,861.52 L1041.73,861.09 L1041.96,860.63 L1042.15,860.14 L1042.29,859.64 L1042.37,859.12 L1042.4,858.6 L1042.37,858.08 L1042.29,857.56 L1042.15,857.06 L1041.96,856.57 L1041.73,856.11 L1041.46,855.68 L1041.16,855.27 L1040.82,854.89 L1040.46,854.54 L1040.08,854.22 L1039.67,853.93 L1039.25,853.66 L1038.81,853.43 L1038.36,853.23 L1037.89,853.05 L1037.4,852.92 L1036.91,852.81 L1036.4,852.75 L1035.89,852.74 L1035.37,852.77 L1034.86,852.85 L1034.36,852.98 L1033.87,853.17 L1033.4,853.4 L1032.96,853.69 L1032.56,854.02 L1032.19,854.39 L1031.86,854.79 L1031.58,855.22 L1031.34,855.68 L1031.14,856.15 L1030.98,856.63 L1030.85,857.11 L1030.77,857.61 L1030.72,858.1 L1030.7,858.6 L1030.72,859.1 L1030.77,859.59 L1030.85,860.09 L1030.98,860.57 L1031.14,861.05 L1031.34,861.52 L1031.58,861.98 L1031.86,862.41 L1032.19,862.81 L1032.56,863.18 L1032.96,863.51Z" fill="#E3A03A" stroke="#3a1500" stroke-opacity="0.8" stroke-width="1"/>
<path d="M1034.4,862.06 L1034.71,862.22 L1035.04,862.35 L1035.37,862.43 L1035.71,862.49 L1036.06,862.51 L1036.4,862.5 L1036.74,862.46 L1037.07,862.39 L1037.39,862.3 L1037.7,862.18 L1038.01,862.05 L1038.3,861.89 L1038.58,861.72 L1038.85,861.52 L1039.11,861.31 L1039.35,861.07 L1039.57,860.82 L1039.78,860.55 L1039.96,860.26 L1040.11,859.95 L1040.23,859.63 L1040.33,859.29 L1040.38,858.95 L1040.4,858.6 L1040.38,858.25 L1040.33,857.91 L1040.23,857.57 L1040.11,857.25 L1039.96,856.94 L1039.78,856.65 L1039.57,856.38 L1039.35,856.13 L1039.11,855.89 L1038.85,855.68 L1038.58,855.48 L1038.3,855.31 L1038.01,855.15 L1037.7,855.02 L1037.39,854.9 L1037.07,854.81 L1036.74,854.74 L1036.4,854.7 L1036.06,854.69 L1035.71,854.71 L1035.37,854.77 L1035.04,854.85 L1034.71,854.98 L1034.4,855.14 L1034.11,855.33 L1033.84,855.55 L1033.59,855.79 L1033.38,856.06 L1033.19,856.35 L1033.02,856.65 L1032.89,856.96 L1032.78,857.28 L1032.7,857.61 L1032.65,857.94 L1032.61,858.27 L1032.6,858.6 L1032.61,858.93 L1032.65,859.26 L1032.7,859.59 L1032.78,859.92 L1032.89,860.24 L1033.02,860.55 L1033.19,860.85 L1033.38,861.14 L1033.59,861.41 L1033.84,861.65 L1034.11,861.87Z" fill="#60AAA0" stroke="#3a1500" stroke-opacity="0.8" stroke-width="1"/>
<path d="M1035.15,860.77 L1035.34,860.87 L1035.54,860.95 L1035.75,861.01 L1035.97,861.06 L1036.18,861.09 L1036.4,861.1 L1036.62,861.09 L1036.83,861.06 L1037.05,861.01 L1037.26,860.95 L1037.46,860.87 L1037.65,860.77 L1037.83,860.65 L1038.01,860.52 L1038.17,860.37 L1038.32,860.21 L1038.45,860.03 L1038.57,859.85 L1038.67,859.66 L1038.75,859.46 L1038.81,859.25 L1038.86,859.03 L1038.89,858.82 L1038.9,858.6 L1038.89,858.38 L1038.86,858.17 L1038.81,857.95 L1038.75,857.74 L1038.67,857.54 L1038.57,857.35 L1038.45,857.17 L1038.32,856.99 L1038.17,856.83 L1038.01,856.68 L1037.83,856.55 L1037.65,856.43 L1037.46,856.33 L1037.26,856.25 L1037.05,856.19 L1036.83,856.14 L1036.62,856.11 L1036.4,856.1 L1036.18,856.11 L1035.97,856.14 L1035.75,856.19 L1035.54,856.25 L1035.34,856.33 L1035.15,856.43 L1034.97,856.55 L1034.79,856.68 L1034.63,856.83 L1034.48,856.99 L1034.35,857.17 L1034.23,857.35 L1034.13,857.54 L1034.05,857.74 L1033.99,857.95 L1033.94,858.17 L1033.91,858.38 L1033.9,858.6 L1033.91,858.82 L1033.94,859.03 L1033.99,859.25 L1034.05,859.46 L1034.13,859.66 L1034.23,859.85 L1034.35,860.03 L1034.48,860.21 L1034.63,860.37 L1034.79,860.52 L1034.97,860.65Z" fill="#22307a"/>
</g>
<rect x="613.3" y="43.3" width="35.2" height="37.4" fill="#3300FF"/>
<rect x="613.3" y="80.4" width="35.2" height="41.6" fill="#006EFF"/>
<rect x="613.3" y="121.7" width="35.2" height="41.8" fill="#00FFE5"/>
<rect x="613.3" y="163.2" width="35.2" height="42" fill="#00FF40"/>
<rect x="613.3" y="204.9" width="35.2" height="41.7" fill="#66FF00"/>
<rect x="613.3" y="246.3" width="35.2" height="41.4" fill="#FFFB0A"/>
<rect x="613.3" y="287.4" width="35.2" height="41.7" fill="#FF5500"/>
<rect x="613.3" y="328.8" width="35.2" height="41.6" fill="#FF0000"/>
<line x1="613.3" y1="80.4" x2="648.5" y2="80.4" stroke="#000" stroke-opacity="0.55" stroke-width="0.8"/>
<line x1="648.5" y1="80.4" x2="654.1" y2="80.4" stroke="#999" stroke-width="0.8"/>
<line x1="613.3" y1="121.7" x2="648.5" y2="121.7" stroke="#000" stroke-opacity="0.55" stroke-width="0.8"/>
<line x1="648.5" y1="121.7" x2="654.1" y2="121.7" stroke="#999" stroke-width="0.8"/>
<line x1="613.3" y1="163.2" x2="648.5" y2="163.2" stroke="#000" stroke-opacity="0.55" stroke-width="0.8"/>
<line x1="648.5" y1="163.2" x2="654.1" y2="163.2" stroke="#999" stroke-width="0.8"/>
<line x1="613.3" y1="204.9" x2="648.5" y2="204.9" stroke="#000" stroke-opacity="0.55" stroke-width="0.8"/>
<line x1="648.5" y1="204.9" x2="654.1" y2="204.9" stroke="#999" stroke-width="0.8"/>
<line x1="613.3" y1="246.3" x2="648.5" y2="246.3" stroke="#000" stroke-opacity="0.55" stroke-width="0.8"/>
<line x1="648.5" y1="246.3" x2="654.1" y2="246.3" stroke="#999" stroke-width="0.8"/>
<line x1="613.3" y1="287.4" x2="648.5" y2="287.4" stroke="#000" stroke-opacity="0.55" stroke-width="0.8"/>
<line x1="648.5" y1="287.4" x2="654.1" y2="287.4" stroke="#999" stroke-width="0.8"/>
<line x1="613.3" y1="328.8" x2="648.5" y2="328.8" stroke="#000" stroke-opacity="0.55" stroke-width="0.8"/>
<line x1="648.5" y1="328.8" x2="654.1" y2="328.8" stroke="#999" stroke-width="0.8"/>
<text class="cb" transform="translate(659,86) scale(1.085,1)">1500</text>
<text class="cb" transform="translate(659,129.9) scale(1.085,1)">1250</text>
<text class="cb" transform="translate(659,171) scale(1.085,1)">1000</text>
<text class="cb" transform="translate(659,210.7) scale(1.085,1)">750</text>
<text class="cb" transform="translate(659,251.2) scale(1.085,1)">500</text>
<text class="cb" transform="translate(659,294.1) scale(1.085,1)">250</text>
<text transform="translate(656.4,337.5) scale(1.25,1)" style="font-family:'Liberation Serif',serif;font-weight:bold;font-size:32px;fill:#000">0</text>
<rect x="1388.6" y="31.6" width="36.1" height="36.9" fill="#FF0000"/>
<rect x="1388.6" y="68.2" width="36.1" height="36.1" fill="#FF00E6"/>
<rect x="1388.6" y="104" width="36.1" height="36.4" fill="#6600FF"/>
<rect x="1388.6" y="140.1" width="36.1" height="36.6" fill="#0044FF"/>
<rect x="1388.6" y="176.4" width="36.1" height="36.4" fill="#00EEFF"/>
<rect x="1388.6" y="212.5" width="36.1" height="36.3" fill="#00FF5A"/>
<rect x="1388.6" y="248.5" width="36.1" height="36.4" fill="#55FF00"/>
<rect x="1388.6" y="284.6" width="36.1" height="36.6" fill="#FFFF00"/>
<rect x="1388.6" y="320.9" width="36.1" height="36.4" fill="#FF5500"/>
<rect x="1388.6" y="357" width="36.1" height="36.1" fill="#FF0000"/>
<line x1="1388.6" y1="68.2" x2="1424.7" y2="68.2" stroke="#000" stroke-opacity="0.55" stroke-width="0.8"/>
<line x1="1424.7" y1="68.2" x2="1431.6" y2="68.2" stroke="#999" stroke-width="0.8"/>
<line x1="1388.6" y1="104" x2="1424.7" y2="104" stroke="#000" stroke-opacity="0.55" stroke-width="0.8"/>
<line x1="1424.7" y1="104" x2="1431.6" y2="104" stroke="#999" stroke-width="0.8"/>
<line x1="1388.6" y1="140.1" x2="1424.7" y2="140.1" stroke="#000" stroke-opacity="0.55" stroke-width="0.8"/>
<line x1="1424.7" y1="140.1" x2="1431.6" y2="140.1" stroke="#999" stroke-width="0.8"/>
<line x1="1388.6" y1="176.4" x2="1424.7" y2="176.4" stroke="#000" stroke-opacity="0.55" stroke-width="0.8"/>
<line x1="1424.7" y1="176.4" x2="1431.6" y2="176.4" stroke="#999" stroke-width="0.8"/>
<line x1="1388.6" y1="212.5" x2="1424.7" y2="212.5" stroke="#000" stroke-opacity="0.55" stroke-width="0.8"/>
<line x1="1424.7" y1="212.5" x2="1431.6" y2="212.5" stroke="#999" stroke-width="0.8"/>
<line x1="1388.6" y1="248.5" x2="1424.7" y2="248.5" stroke="#000" stroke-opacity="0.55" stroke-width="0.8"/>
<line x1="1424.7" y1="248.5" x2="1431.6" y2="248.5" stroke="#999" stroke-width="0.8"/>
<line x1="1388.6" y1="284.6" x2="1424.7" y2="284.6" stroke="#000" stroke-opacity="0.55" stroke-width="0.8"/>
<line x1="1424.7" y1="284.6" x2="1431.6" y2="284.6" stroke="#999" stroke-width="0.8"/>
<line x1="1388.6" y1="320.9" x2="1424.7" y2="320.9" stroke="#000" stroke-opacity="0.55" stroke-width="0.8"/>
<line x1="1424.7" y1="320.9" x2="1431.6" y2="320.9" stroke="#999" stroke-width="0.8"/>
<line x1="1388.6" y1="357" x2="1424.7" y2="357" stroke="#000" stroke-opacity="0.55" stroke-width="0.8"/>
<line x1="1424.7" y1="357" x2="1431.6" y2="357" stroke="#999" stroke-width="0.8"/>
<text class="cb" transform="translate(1435.3,78.3) scale(1.085,1)">4</text>
<text class="cb" transform="translate(1435.3,116.6) scale(1.085,1)">3.5</text>
<text class="cb" transform="translate(1435.3,150.5) scale(1.085,1)">3</text>
<text class="cb" transform="translate(1435.3,184.8) scale(1.085,1)">2.5</text>
<text class="cb" transform="translate(1435.3,220.6) scale(1.085,1)">2</text>
<text class="cb" transform="translate(1435.3,255) scale(1.085,1)">1.5</text>
<text class="cb" transform="translate(1435.3,292.4) scale(1.085,1)">1</text>
<text class="cb" transform="translate(1435.3,329.1) scale(1.085,1)">0.5</text>
<text class="cb" transform="translate(1435.3,368.4) scale(1.085,1)">0</text>
<rect x="611.7" y="476" width="37.3" height="48" fill="#DB2022"/>
<rect x="611.7" y="523.7" width="37.3" height="48.5" fill="#E2582C"/>
<rect x="611.7" y="571.9" width="37.3" height="48.5" fill="#E2A33A"/>
<rect x="611.7" y="620.1" width="37.3" height="47.9" fill="#B7BC4E"/>
<rect x="611.7" y="667.7" width="37.3" height="48.5" fill="#7CB97C"/>
<rect x="611.7" y="715.9" width="37.3" height="48.3" fill="#559BB8"/>
<rect x="611.7" y="763.9" width="37.3" height="48.5" fill="#4156CE"/>
<rect x="611.7" y="812.1" width="37.3" height="47.7" fill="#781C86"/>
<line x1="611.7" y1="523.7" x2="649" y2="523.7" stroke="#000" stroke-opacity="0.55" stroke-width="0.8"/>
<line x1="649" y1="523.7" x2="656" y2="523.7" stroke="#999" stroke-width="0.8"/>
<line x1="611.7" y1="571.9" x2="649" y2="571.9" stroke="#000" stroke-opacity="0.55" stroke-width="0.8"/>
<line x1="649" y1="571.9" x2="656" y2="571.9" stroke="#999" stroke-width="0.8"/>
<line x1="611.7" y1="620.1" x2="649" y2="620.1" stroke="#000" stroke-opacity="0.55" stroke-width="0.8"/>
<line x1="649" y1="620.1" x2="656" y2="620.1" stroke="#999" stroke-width="0.8"/>
<line x1="611.7" y1="667.7" x2="649" y2="667.7" stroke="#000" stroke-opacity="0.55" stroke-width="0.8"/>
<line x1="649" y1="667.7" x2="656" y2="667.7" stroke="#999" stroke-width="0.8"/>
<line x1="611.7" y1="715.9" x2="649" y2="715.9" stroke="#000" stroke-opacity="0.55" stroke-width="0.8"/>
<line x1="649" y1="715.9" x2="656" y2="715.9" stroke="#999" stroke-width="0.8"/>
<line x1="611.7" y1="763.9" x2="649" y2="763.9" stroke="#000" stroke-opacity="0.55" stroke-width="0.8"/>
<line x1="649" y1="763.9" x2="656" y2="763.9" stroke="#999" stroke-width="0.8"/>
<line x1="611.7" y1="812.1" x2="649" y2="812.1" stroke="#000" stroke-opacity="0.55" stroke-width="0.8"/>
<line x1="649" y1="812.1" x2="656" y2="812.1" stroke="#999" stroke-width="0.8"/>
<text class="cb" transform="translate(660.2,533.6) scale(1.085,1)">0</text>
<text class="cb" transform="translate(660.3,582.3) scale(1.085,1)">-200</text>
<text class="cb" transform="translate(658.7,628.7) scale(1.085,1)">-400</text>
<text class="cb" transform="translate(659.1,676.5) scale(1.085,1)">-600</text>
<text class="cb" transform="translate(658.9,723.7) scale(1.085,1)">-800</text>
<text class="cb" transform="translate(660.6,772.8) scale(1.085,1)">-1000</text>
<text class="cb" transform="translate(660.6,820.3) scale(1.085,1)">-1200</text>
<rect x="1383.3" y="479.3" width="41" height="43.1" fill="#DB2022"/>
<rect x="1383.3" y="522.1" width="41" height="42.8" fill="#E2562B"/>
<rect x="1383.3" y="564.6" width="41" height="42.9" fill="#E3A03A"/>
<rect x="1383.3" y="607.2" width="41" height="42.8" fill="#C1BE4D"/>
<rect x="1383.3" y="649.7" width="41" height="42.8" fill="#8CBF6A"/>
<rect x="1383.3" y="692.2" width="41" height="43.1" fill="#60AAA0"/>
<rect x="1383.3" y="735" width="41" height="42.8" fill="#4479CB"/>
<rect x="1383.3" y="777.5" width="41" height="42.9" fill="#4430BE"/>
<rect x="1383.3" y="820.1" width="41" height="42.3" fill="#781C86"/>
<line x1="1383.3" y1="522.1" x2="1424.3" y2="522.1" stroke="#000" stroke-opacity="0.55" stroke-width="0.8"/>
<line x1="1424.3" y1="522.1" x2="1432.3" y2="522.1" stroke="#999" stroke-width="0.8"/>
<line x1="1383.3" y1="564.6" x2="1424.3" y2="564.6" stroke="#000" stroke-opacity="0.55" stroke-width="0.8"/>
<line x1="1424.3" y1="564.6" x2="1432.3" y2="564.6" stroke="#999" stroke-width="0.8"/>
<line x1="1383.3" y1="607.2" x2="1424.3" y2="607.2" stroke="#000" stroke-opacity="0.55" stroke-width="0.8"/>
<line x1="1424.3" y1="607.2" x2="1432.3" y2="607.2" stroke="#999" stroke-width="0.8"/>
<line x1="1383.3" y1="649.7" x2="1424.3" y2="649.7" stroke="#000" stroke-opacity="0.55" stroke-width="0.8"/>
<line x1="1424.3" y1="649.7" x2="1432.3" y2="649.7" stroke="#999" stroke-width="0.8"/>
<line x1="1383.3" y1="692.2" x2="1424.3" y2="692.2" stroke="#000" stroke-opacity="0.55" stroke-width="0.8"/>
<line x1="1424.3" y1="692.2" x2="1432.3" y2="692.2" stroke="#999" stroke-width="0.8"/>
<line x1="1383.3" y1="735" x2="1424.3" y2="735" stroke="#000" stroke-opacity="0.55" stroke-width="0.8"/>
<line x1="1424.3" y1="735" x2="1432.3" y2="735" stroke="#999" stroke-width="0.8"/>
<line x1="1383.3" y1="777.5" x2="1424.3" y2="777.5" stroke="#000" stroke-opacity="0.55" stroke-width="0.8"/>
<line x1="1424.3" y1="777.5" x2="1432.3" y2="777.5" stroke="#999" stroke-width="0.8"/>
<line x1="1383.3" y1="820.1" x2="1424.3" y2="820.1" stroke="#000" stroke-opacity="0.55" stroke-width="0.8"/>
<line x1="1424.3" y1="820.1" x2="1432.3" y2="820.1" stroke="#999" stroke-width="0.8"/>
<text class="cb" transform="translate(1437.8,530.2) scale(1.085,1)">0</text>
<text class="cb" transform="translate(1437.6,573.4) scale(1.085,1)">-20</text>
<text class="cb" transform="translate(1438.7,614.8) scale(1.085,1)">-40</text>
<text class="cb" transform="translate(1438.7,658.8) scale(1.085,1)">-60</text>
<text class="cb" transform="translate(1439.6,700.7) scale(1.085,1)">-80</text>
<text class="cb" transform="translate(1439.6,743) scale(1.085,1)">-100</text>
<text class="cb" transform="translate(1440.2,786.6) scale(1.085,1)">-120</text>
<text class="cb" transform="translate(1440.2,829.5) scale(1.085,1)">-140</text>
<text class="pl"><tspan x="0.25" y="25">a</tspan><tspan x="22.1" y="25.6" font-size="40">.</tspan></text>
<text class="pl"><tspan x="796.8" y="25">b</tspan><tspan x="820.7" y="25.6" font-size="40">.</tspan></text>
<text class="pl"><tspan x="-1.65" y="465.8" textLength="26.68" lengthAdjust="spacingAndGlyphs">c</tspan><tspan x="21.6" y="466" font-size="40">.</tspan></text>
<text class="pl"><tspan x="797.05" y="465.7">d</tspan><tspan x="820.1" y="466" font-size="40">.</tspan></text>
<text class="pl"><tspan x="3.8" y="956.4">e</tspan><tspan x="26.1" y="956.8" font-size="40">.</tspan></text>
<text class="pl"><tspan x="802.3" y="956.8">f</tspan><tspan x="812.4" y="956.8" font-size="40">.</tspan></text>
<path d="M164.9,1009.6 L175.04,1009.6 L185.18,1009.69 L195.31,1011.62 L205.45,1017.38 L215.59,1026.06 L225.73,1035.89 L235.87,1045.56 L246,1054.39 L256.14,1062.12 L266.28,1068.73 L276.42,1074.32 L286.56,1079.01 L296.69,1082.96 L306.83,1086.29 L316.97,1089.1 L327.11,1091.49 L337.25,1093.53 L347.38,1095.28 L357.52,1096.78 L367.66,1098.09 L377.8,1099.23 L387.94,1100.22 L398.07,1101.1 L408.21,1101.87 L418.35,1102.55 L428.49,1103.16 L438.63,1103.71 L448.76,1104.2 L458.9,1104.64 L469.04,1105.03 L479.18,1105.39 L489.32,1105.72 L499.45,1106.02 L509.59,1106.29 L519.73,1106.53 L529.87,1106.76 L540.01,1106.97 L550.14,1107.16 L560.28,1107.34 L570.42,1107.5 L580.56,1107.66 L590.7,1107.8 L600.83,1107.93 L610.97,1108.05 L621.11,1108.17 L631.25,1108.27 L641.39,1108.37 L651.52,1108.46 L661.66,1108.55 L671.8,1108.63" fill="none" stroke="#00A800" stroke-width="8" stroke-linejoin="miter" stroke-linecap="square"/>
<path d="M164.9,1009.6 L175.04,1009.6 L185.18,1010.06 L195.31,1015.68 L205.45,1031.99 L215.59,1059.27 L225.73,1094.31 L235.87,1133.05 L246,1171.19 L256.14,1205.99 L266.28,1237.16 L276.42,1265.53 L286.56,1291.02 L296.69,1313.02 L306.83,1331.92 L316.97,1348.23 L327.11,1362.3 L337.25,1374.44 L347.38,1384.93 L357.52,1394.02 L367.66,1401.98 L377.8,1408.97 L387.94,1415.11 L398.07,1420.5 L408.21,1425.23 L418.35,1429.41 L428.49,1433.14 L438.63,1436.47 L448.76,1439.49 L458.9,1442.25 L469.04,1444.76 L479.18,1447.06 L489.32,1449.17 L499.45,1451.11 L509.59,1452.91 L519.73,1454.58 L529.87,1456.13 L540.01,1457.58 L550.14,1458.92 L560.28,1460.17 L570.42,1461.34 L580.56,1462.44 L590.7,1463.47 L600.83,1464.43 L610.97,1465.33 L621.11,1466.18 L631.25,1466.98 L641.39,1467.72 L651.52,1468.42 L661.66,1469.07 L671.8,1469.68" fill="none" stroke="#FF0000" stroke-width="8" stroke-linejoin="miter" stroke-linecap="square"/>
<path d="M164.9,1009.6 L175.04,1009.6 L185.18,1010.06 L195.31,1015.68 L205.45,1031.99 L215.59,1059.27 L225.73,1094.31 L235.87,1133.05 L246,1171.19 L256.14,1205.99 L266.28,1237.16 L276.42,1265.53 L286.56,1291.02 L296.69,1313.02 L306.83,1331.89 L316.97,1348.05 L327.11,1361.89 L337.25,1373.77 L347.38,1383.99 L357.52,1392.82 L367.66,1400.47 L377.8,1407.13 L387.94,1412.94 L398.07,1418.05 L408.21,1422.55 L418.35,1426.53 L428.49,1430.06 L438.63,1433.21 L448.76,1436.02 L458.9,1438.55 L469.04,1440.82 L479.18,1442.88 L489.32,1444.74 L499.45,1446.42 L509.59,1447.96 L519.73,1449.37 L529.87,1450.65 L540.01,1451.83 L550.14,1452.92 L560.28,1453.91 L570.42,1454.84 L580.56,1455.69 L590.7,1456.48 L600.83,1457.21 L610.97,1457.89 L621.11,1458.53 L631.25,1459.12 L641.39,1459.68 L651.52,1460.19 L661.66,1460.68 L671.8,1461.14" fill="none" stroke="#0000FF" stroke-width="8" stroke-linejoin="miter" stroke-linecap="square"/>
<path d="M164.9,1009.6 L175.04,1009.6 L185.18,1009.96 L195.31,1015.38 L205.45,1032.45 L215.59,1061.69 L225.73,1099.2 L235.87,1140.22 L246,1180.94 L256.14,1219.05 L266.28,1253.41 L276.42,1283.72 L286.56,1310.11 L296.69,1332.94 L306.83,1352.65 L316.97,1369.66 L327.11,1384.36 L337.25,1397.12 L347.38,1408.23 L357.52,1417.94 L367.66,1426.46 L377.8,1433.96 L387.94,1440.61 L398.07,1446.51 L408.21,1451.77 L418.35,1456.48 L428.49,1460.71 L438.63,1464.53 L448.76,1467.98 L458.9,1471.11 L469.04,1473.95 L479.18,1476.55 L489.32,1478.92 L499.45,1481.09 L509.59,1483.09 L519.73,1484.92 L529.87,1486.61 L540.01,1488.17 L550.14,1489.6 L560.28,1490.93 L570.42,1492.16 L580.56,1493.29 L590.7,1494.33 L600.83,1495.29 L610.97,1496.17 L621.11,1496.97 L631.25,1497.71 L641.39,1498.37 L651.52,1498.96 L661.66,1499.49 L671.8,1499.94" fill="none" stroke="#FF7F00" stroke-width="8" stroke-linejoin="miter" stroke-linecap="square"/>
<rect x="154.25" y="997.9" width="527.65" height="528.3" fill="none" stroke="#606060" stroke-width="3.9"/>
<path d="M164.9,1526.2v-7.15M164.9,997.9v7.15M185.18,1526.2v-4.65M185.18,997.9v4.65M205.45,1526.2v-4.65M205.45,997.9v4.65M225.73,1526.2v-4.65M225.73,997.9v4.65M246,1526.2v-4.65M246,997.9v4.65M266.28,1526.2v-7.15M266.28,997.9v7.15M286.56,1526.2v-4.65M286.56,997.9v4.65M306.83,1526.2v-4.65M306.83,997.9v4.65M327.11,1526.2v-4.65M327.11,997.9v4.65M347.38,1526.2v-4.65M347.38,997.9v4.65M367.66,1526.2v-7.15M367.66,997.9v7.15M387.94,1526.2v-4.65M387.94,997.9v4.65M408.21,1526.2v-4.65M408.21,997.9v4.65M428.49,1526.2v-4.65M428.49,997.9v4.65M448.76,1526.2v-4.65M448.76,997.9v4.65M469.04,1526.2v-7.15M469.04,997.9v7.15M489.32,1526.2v-4.65M489.32,997.9v4.65M509.59,1526.2v-4.65M509.59,997.9v4.65M529.87,1526.2v-4.65M529.87,997.9v4.65M550.14,1526.2v-4.65M550.14,997.9v4.65M570.42,1526.2v-7.15M570.42,997.9v7.15M590.7,1526.2v-4.65M590.7,997.9v4.65M610.97,1526.2v-4.65M610.97,997.9v4.65M631.25,1526.2v-4.65M631.25,997.9v4.65M651.52,1526.2v-4.65M651.52,997.9v4.65M671.8,1526.2v-7.15M671.8,997.9v7.15M154.25,1009h7.15M681.9,1009h-7.15M154.25,1025.82h4.65M681.9,1025.82h-4.65M154.25,1042.64h4.65M681.9,1042.64h-4.65M154.25,1059.46h4.65M681.9,1059.46h-4.65M154.25,1076.28h4.65M681.9,1076.28h-4.65M154.25,1093.1h7.15M681.9,1093.1h-7.15M154.25,1109.92h4.65M681.9,1109.92h-4.65M154.25,1126.74h4.65M681.9,1126.74h-4.65M154.25,1143.56h4.65M681.9,1143.56h-4.65M154.25,1160.38h4.65M681.9,1160.38h-4.65M154.25,1177.2h7.15M681.9,1177.2h-7.15M154.25,1194.02h4.65M681.9,1194.02h-4.65M154.25,1210.84h4.65M681.9,1210.84h-4.65M154.25,1227.66h4.65M681.9,1227.66h-4.65M154.25,1244.48h4.65M681.9,1244.48h-4.65M154.25,1261.3h7.15M681.9,1261.3h-7.15M154.25,1278.12h4.65M681.9,1278.12h-4.65M154.25,1294.94h4.65M681.9,1294.94h-4.65M154.25,1311.76h4.65M681.9,1311.76h-4.65M154.25,1328.58h4.65M681.9,1328.58h-4.65M154.25,1345.4h7.15M681.9,1345.4h-7.15M154.25,1362.22h4.65M681.9,1362.22h-4.65M154.25,1379.04h4.65M681.9,1379.04h-4.65M154.25,1395.86h4.65M681.9,1395.86h-4.65M154.25,1412.68h4.65M681.9,1412.68h-4.65M154.25,1429.5h7.15M681.9,1429.5h-7.15M154.25,1446.32h4.65M681.9,1446.32h-4.65M154.25,1463.14h4.65M681.9,1463.14h-4.65M154.25,1479.96h4.65M681.9,1479.96h-4.65M154.25,1496.78h4.65M681.9,1496.78h-4.65M154.25,1513.6h7.15M681.9,1513.6h-7.15" stroke="#606060" stroke-width="3.6" fill="none"/>
<text class="tk" transform="translate(146.3,1023.4) scale(1,1.1)" text-anchor="end">0.0</text>
<text class="tk" transform="translate(146.3,1107.5) scale(1,1.1)"><tspan x="-78" textLength="25.25" lengthAdjust="spacingAndGlyphs">−</tspan><tspan x="-51.25">0.1</tspan></text>
<text class="tk" transform="translate(146.3,1191.6) scale(1,1.1)"><tspan x="-78" textLength="25.25" lengthAdjust="spacingAndGlyphs">−</tspan><tspan x="-51.25">0.2</tspan></text>
<text class="tk" transform="translate(146.3,1275.7) scale(1,1.1)"><tspan x="-78" textLength="25.25" lengthAdjust="spacingAndGlyphs">−</tspan><tspan x="-51.25">0.3</tspan></text>
<text class="tk" transform="translate(146.3,1359.8) scale(1,1.1)"><tspan x="-78" textLength="25.25" lengthAdjust="spacingAndGlyphs">−</tspan><tspan x="-51.25">0.4</tspan></text>
<text class="tk" transform="translate(146.3,1443.9) scale(1,1.1)"><tspan x="-78" textLength="25.25" lengthAdjust="spacingAndGlyphs">−</tspan><tspan x="-51.25">0.5</tspan></text>
<text class="tk" transform="translate(146.3,1528) scale(1,1.1)"><tspan x="-78" textLength="25.25" lengthAdjust="spacingAndGlyphs">−</tspan><tspan x="-51.25">0.6</tspan></text>
<text class="tk" transform="translate(164.9,1570.2) scale(1,1.1)" text-anchor="middle">0</text>
<text class="tk" transform="translate(266.28,1570.2) scale(1,1.1)" text-anchor="middle">1</text>
<text class="tk" transform="translate(367.66,1570.2) scale(1,1.1)" text-anchor="middle">2</text>
<text class="tk" transform="translate(469.04,1570.2) scale(1,1.1)" text-anchor="middle">3</text>
<text class="tk" transform="translate(570.42,1570.2) scale(1,1.1)" text-anchor="middle">4</text>
<text class="tk" transform="translate(671.8,1570.2) scale(1,1.1)" text-anchor="middle">5</text>
<text class="ax" x="418" y="1622.8" text-anchor="middle">T/JM</text>
<text transform="translate(34.5,1296) rotate(-90)" style="font-family:'Liberation Serif',serif;font-weight:bold;fill:#666"><tspan x="0" y="0" font-size="57" font-style="italic" textLength="25.37" lengthAdjust="spacingAndGlyphs">κ</tspan><tspan x="27" y="9" font-size="40">xy</tspan></text>
<rect x="488" y="1170.8" width="145" height="180.2" fill="#fff" stroke="#000" stroke-width="3"/>
<line x1="500.8" y1="1198.4" x2="585" y2="1198.4" stroke="#00A800" stroke-width="5.7"/>
<text class="lg" x="590.4" y="1204.8">a.</text>
<line x1="501" y1="1239.6" x2="585" y2="1239.6" stroke="#FF0000" stroke-width="5.7"/>
<text class="lg" x="590.4" y="1248.8">b.</text>
<line x1="504.1" y1="1280.5" x2="585" y2="1280.5" stroke="#0000FF" stroke-width="5.7"/>
<text class="lg" x="590.4" y="1287.4">c.</text>
<line x1="507.4" y1="1323.5" x2="585" y2="1323.5" stroke="#FF7F00" stroke-width="5.7"/>
<text class="lg" x="590.4" y="1330.6">d.</text>
<path d="M940,1517.7 L950.13,1517.7 L960.25,1517.56 L970.38,1515.7 L980.5,1509.37 L990.63,1498.28 L1000.76,1484.98 L1010.88,1472.16 L1021.01,1461.14 L1031.13,1452.15 L1041.26,1444.93 L1051.39,1439.14 L1061.51,1434.45 L1071.64,1430.62 L1081.76,1427.44 L1091.89,1424.78 L1102.02,1422.53 L1112.14,1420.6 L1122.27,1418.93 L1132.39,1417.47 L1142.52,1416.19 L1152.65,1415.06 L1162.77,1414.05 L1172.9,1413.15 L1183.02,1412.34 L1193.15,1411.61 L1203.28,1410.94 L1213.4,1410.34 L1223.53,1409.78 L1233.65,1409.27 L1243.78,1408.8 L1253.91,1408.37 L1264.03,1407.97 L1274.16,1407.6 L1284.28,1407.25 L1294.41,1406.93 L1304.54,1406.63 L1314.66,1406.34 L1324.79,1406.08 L1334.91,1405.83 L1345.04,1405.6 L1355.17,1405.38 L1365.29,1405.17 L1375.42,1404.97 L1385.54,1404.78 L1395.67,1404.61 L1405.8,1404.44 L1415.92,1404.28 L1426.05,1404.13 L1436.17,1403.99 L1446.3,1403.85" fill="none" stroke="#00A800" stroke-width="8" stroke-linejoin="miter" stroke-linecap="square"/>
<path d="M940,1517.7 L950.13,1517.7 L960.25,1517.11 L970.38,1510.9 L980.5,1492.08 L990.63,1459.24 L1000.76,1416.85 L1010.88,1371.28 L1021.01,1327.51 L1031.13,1290.15 L1041.26,1260.2 L1051.39,1234.87 L1061.51,1211.46 L1071.64,1191.48 L1081.76,1174.74 L1091.89,1160.5 L1102.02,1148.27 L1112.14,1137.73 L1122.27,1128.66 L1132.39,1120.86 L1142.52,1114.08 L1152.65,1108.12 L1162.77,1102.84 L1172.9,1098.14 L1183.02,1093.9 L1193.15,1090.09 L1203.28,1086.68 L1213.4,1083.61 L1223.53,1080.83 L1233.65,1078.3 L1243.78,1075.98 L1253.91,1073.85 L1264.03,1071.88 L1274.16,1070.06 L1284.28,1068.37 L1294.41,1066.79 L1304.54,1065.32 L1314.66,1063.95 L1324.79,1062.67 L1334.91,1061.49 L1345.04,1060.38 L1355.17,1059.36 L1365.29,1058.42 L1375.42,1057.56 L1385.54,1056.77 L1395.67,1056.05 L1405.8,1055.41 L1415.92,1054.84 L1426.05,1054.35 L1436.17,1053.93 L1446.3,1053.6" fill="none" stroke="#FF0000" stroke-width="8" stroke-linejoin="miter" stroke-linecap="square"/>
<path d="M940,1517.7 L950.13,1517.7 L960.25,1517.11 L970.38,1510.9 L980.5,1492.08 L990.63,1459.24 L1000.76,1416.85 L1010.88,1371.28 L1021.01,1327.51 L1031.13,1290.15 L1041.26,1260.2 L1051.39,1234.87 L1061.51,1211.46 L1071.64,1191.48 L1081.76,1174.74 L1091.89,1160.65 L1102.02,1148.72 L1112.14,1138.53 L1122.27,1129.77 L1132.39,1122.19 L1142.52,1115.58 L1152.65,1109.78 L1162.77,1104.65 L1172.9,1100.1 L1183.02,1096.04 L1193.15,1092.4 L1203.28,1089.12 L1213.4,1086.14 L1223.53,1083.44 L1233.65,1080.98 L1243.78,1078.73 L1253.91,1076.67 L1264.03,1074.77 L1274.16,1073.02 L1284.28,1071.4 L1294.41,1069.91 L1304.54,1068.53 L1314.66,1067.25 L1324.79,1066.06 L1334.91,1064.97 L1345.04,1063.96 L1355.17,1063.02 L1365.29,1062.17 L1375.42,1061.39 L1385.54,1060.68 L1395.67,1060.04 L1405.8,1059.48 L1415.92,1058.99 L1426.05,1058.57 L1436.17,1058.23 L1446.3,1057.97" fill="none" stroke="#0000FF" stroke-width="8" stroke-linejoin="miter" stroke-linecap="square"/>
<path d="M940,1517.7 L950.13,1517.7 L960.25,1517.18 L970.38,1510.84 L980.5,1490.95 L990.63,1456.39 L1000.76,1412.42 L1010.88,1365.8 L1021.01,1321.48 L1031.13,1281.89 L1041.26,1247.72 L1051.39,1218.74 L1061.51,1194.3 L1071.64,1173.71 L1081.76,1156.3 L1091.89,1141.51 L1102.02,1128.86 L1112.14,1117.98 L1122.27,1108.56 L1132.39,1100.35 L1142.52,1093.14 L1152.65,1086.79 L1162.77,1081.16 L1172.9,1076.14 L1183.02,1071.64 L1193.15,1067.6 L1203.28,1063.95 L1213.4,1060.64 L1223.53,1057.63 L1233.65,1054.88 L1243.78,1052.37 L1253.91,1050.06 L1264.03,1047.94 L1274.16,1045.99 L1284.28,1044.18 L1294.41,1042.51 L1304.54,1040.97 L1314.66,1039.54 L1324.79,1038.22 L1334.91,1036.99 L1345.04,1035.86 L1355.17,1034.82 L1365.29,1033.86 L1375.42,1032.98 L1385.54,1032.18 L1395.67,1031.46 L1405.8,1030.82 L1415.92,1030.26 L1426.05,1029.77 L1436.17,1029.37 L1446.3,1029.05" fill="none" stroke="#FF7F00" stroke-width="8" stroke-linejoin="miter" stroke-linecap="square"/>
<rect x="929.25" y="1002.95" width="526.8" height="526" fill="none" stroke="#606060" stroke-width="3.9"/>
<path d="M940,1528.95v-7.15M940,1002.95v7.15M960.25,1528.95v-4.65M960.25,1002.95v4.65M980.5,1528.95v-4.65M980.5,1002.95v4.65M1000.76,1528.95v-4.65M1000.76,1002.95v4.65M1021.01,1528.95v-4.65M1021.01,1002.95v4.65M1041.26,1528.95v-7.15M1041.26,1002.95v7.15M1061.51,1528.95v-4.65M1061.51,1002.95v4.65M1081.76,1528.95v-4.65M1081.76,1002.95v4.65M1102.02,1528.95v-4.65M1102.02,1002.95v4.65M1122.27,1528.95v-4.65M1122.27,1002.95v4.65M1142.52,1528.95v-7.15M1142.52,1002.95v7.15M1162.77,1528.95v-4.65M1162.77,1002.95v4.65M1183.02,1528.95v-4.65M1183.02,1002.95v4.65M1203.28,1528.95v-4.65M1203.28,1002.95v4.65M1223.53,1528.95v-4.65M1223.53,1002.95v4.65M1243.78,1528.95v-7.15M1243.78,1002.95v7.15M1264.03,1528.95v-4.65M1264.03,1002.95v4.65M1284.28,1528.95v-4.65M1284.28,1002.95v4.65M1304.54,1528.95v-4.65M1304.54,1002.95v4.65M1324.79,1528.95v-4.65M1324.79,1002.95v4.65M1345.04,1528.95v-7.15M1345.04,1002.95v7.15M1365.29,1528.95v-4.65M1365.29,1002.95v4.65M1385.54,1528.95v-4.65M1385.54,1002.95v4.65M1405.8,1528.95v-4.65M1405.8,1002.95v4.65M1426.05,1528.95v-4.65M1426.05,1002.95v4.65M1446.3,1528.95v-7.15M1446.3,1002.95v7.15M929.25,1011.82h4.65M1456.05,1011.82h-4.65M929.25,1026.71h4.65M1456.05,1026.71h-4.65M929.25,1041.61h4.65M1456.05,1041.61h-4.65M929.25,1056.5h4.65M1456.05,1056.5h-4.65M929.25,1071.4h7.15M1456.05,1071.4h-7.15M929.25,1086.3h4.65M1456.05,1086.3h-4.65M929.25,1101.19h4.65M1456.05,1101.19h-4.65M929.25,1116.09h4.65M1456.05,1116.09h-4.65M929.25,1130.98h4.65M1456.05,1130.98h-4.65M929.25,1145.88h7.15M1456.05,1145.88h-7.15M929.25,1160.78h4.65M1456.05,1160.78h-4.65M929.25,1175.67h4.65M1456.05,1175.67h-4.65M929.25,1190.57h4.65M1456.05,1190.57h-4.65M929.25,1205.46h4.65M1456.05,1205.46h-4.65M929.25,1220.36h7.15M1456.05,1220.36h-7.15M929.25,1235.26h4.65M1456.05,1235.26h-4.65M929.25,1250.15h4.65M1456.05,1250.15h-4.65M929.25,1265.05h4.65M1456.05,1265.05h-4.65M929.25,1279.94h4.65M1456.05,1279.94h-4.65M929.25,1294.84h7.15M1456.05,1294.84h-7.15M929.25,1309.74h4.65M1456.05,1309.74h-4.65M929.25,1324.63h4.65M1456.05,1324.63h-4.65M929.25,1339.53h4.65M1456.05,1339.53h-4.65M929.25,1354.42h4.65M1456.05,1354.42h-4.65M929.25,1369.32h7.15M1456.05,1369.32h-7.15M929.25,1384.22h4.65M1456.05,1384.22h-4.65M929.25,1399.11h4.65M1456.05,1399.11h-4.65M929.25,1414.01h4.65M1456.05,1414.01h-4.65M929.25,1428.9h4.65M1456.05,1428.9h-4.65M929.25,1443.8h7.15M1456.05,1443.8h-7.15M929.25,1458.7h4.65M1456.05,1458.7h-4.65M929.25,1473.59h4.65M1456.05,1473.59h-4.65M929.25,1488.49h4.65M1456.05,1488.49h-4.65M929.25,1503.38h4.65M1456.05,1503.38h-4.65M929.25,1518.28h7.15M1456.05,1518.28h-7.15" stroke="#606060" stroke-width="3.6" fill="none"/>
<text class="tk" transform="translate(921.5,1532.7) scale(1,1.1)" text-anchor="end">0.00</text>
<text class="tk" transform="translate(921.5,1458.22) scale(1,1.1)" text-anchor="end">0.05</text>
<text class="tk" transform="translate(921.5,1383.74) scale(1,1.1)" text-anchor="end">0.10</text>
<text class="tk" transform="translate(921.5,1309.26) scale(1,1.1)" text-anchor="end">0.15</text>
<text class="tk" transform="translate(921.5,1234.78) scale(1,1.1)" text-anchor="end">0.20</text>
<text class="tk" transform="translate(921.5,1160.3) scale(1,1.1)" text-anchor="end">0.25</text>
<text class="tk" transform="translate(921.5,1085.82) scale(1,1.1)" text-anchor="end">0.30</text>
<text class="tk" transform="translate(940,1572.6) scale(1,1.1)" text-anchor="middle">0</text>
<text class="tk" transform="translate(1041.26,1572.6) scale(1,1.1)" text-anchor="middle">1</text>
<text class="tk" transform="translate(1142.52,1572.6) scale(1,1.1)" text-anchor="middle">2</text>
<text class="tk" transform="translate(1243.78,1572.6) scale(1,1.1)" text-anchor="middle">3</text>
<text class="tk" transform="translate(1345.04,1572.6) scale(1,1.1)" text-anchor="middle">4</text>
<text class="tk" transform="translate(1446.3,1572.6) scale(1,1.1)" text-anchor="middle">5</text>
<text class="ax" x="1192" y="1622.8" text-anchor="middle">T/JM</text>
<text transform="translate(815.4,1304) rotate(-90)" style="font-family:'Liberation Serif',serif;font-weight:bold;fill:#666"><tspan x="0" y="0" font-size="57" font-style="italic">α</tspan><tspan x="34.5" y="-23.6" font-size="40" font-style="italic">s</tspan><tspan x="35" y="12" font-size="40">xy</tspan></text>
<rect x="1262" y="1144.7" width="145" height="180.2" fill="#fff" stroke="#000" stroke-width="3"/>
<line x1="1274.8" y1="1172.3" x2="1359" y2="1172.3" stroke="#00A800" stroke-width="5.7"/>
<text class="lg" x="1364.4" y="1178.7">a.</text>
<line x1="1275" y1="1213.5" x2="1359" y2="1213.5" stroke="#FF0000" stroke-width="5.7"/>
<text class="lg" x="1364.4" y="1222.7">b.</text>
<line x1="1278.1" y1="1254.4" x2="1359" y2="1254.4" stroke="#0000FF" stroke-width="5.7"/>
<text class="lg" x="1364.4" y="1261.3">c.</text>
<line x1="1281.4" y1="1297.4" x2="1359" y2="1297.4" stroke="#FF7F00" stroke-width="5.7"/>
<text class="lg" x="1364.4" y="1304.5">d.</text>
</svg></body></html>
